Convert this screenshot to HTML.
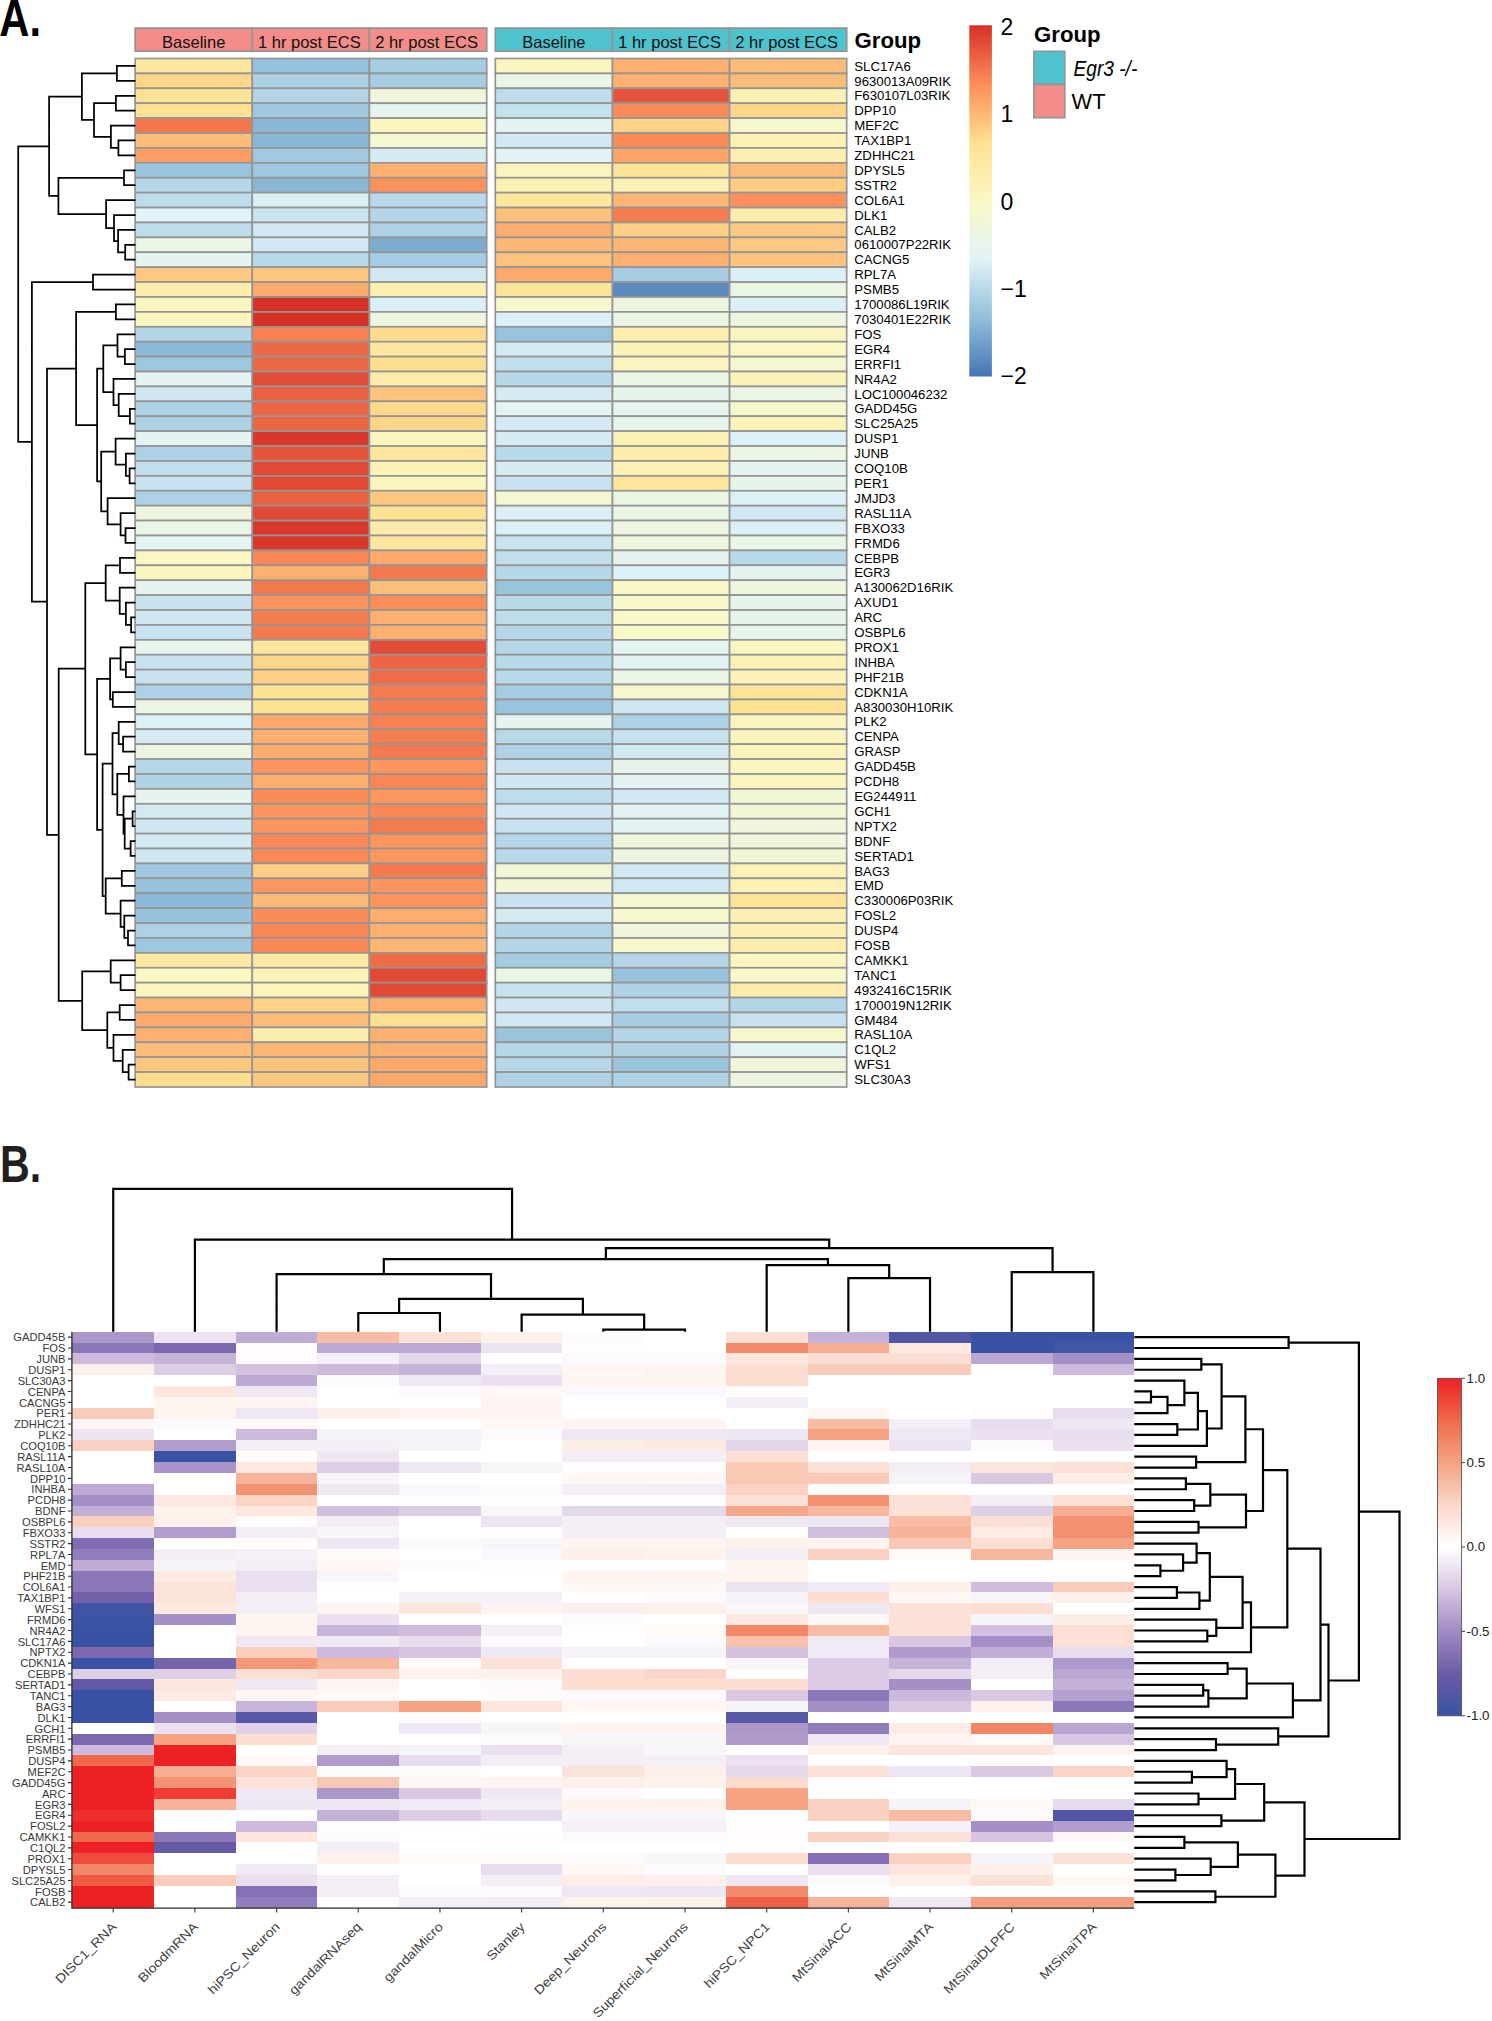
<!DOCTYPE html>
<html><head><meta charset="utf-8"><title>Heatmaps</title>
<style>
html,body{margin:0;padding:0;background:#fff;}
body{width:1492px;height:2021px;overflow:hidden;}
svg{display:block;font-family:"Liberation Sans",sans-serif;}
</style></head><body>
<svg width="1492" height="2021" viewBox="0 0 1492 2021">
<rect x="135.20" y="28.1" width="117.10" height="23.10" fill="#f48d89" stroke="#959595" stroke-width="1.8"/>
<rect x="252.30" y="28.1" width="117.10" height="23.10" fill="#f48d89" stroke="#959595" stroke-width="1.8"/>
<rect x="369.40" y="28.1" width="117.30" height="23.10" fill="#f48d89" stroke="#959595" stroke-width="1.8"/>
<text x="193.75" y="48.1" font-size="16.5" text-anchor="middle" fill="#111">Baseline</text>
<text x="309.35" y="48.1" font-size="16.5" text-anchor="middle" fill="#111">1 hr post ECS</text>
<text x="426.55" y="48.1" font-size="16.5" text-anchor="middle" fill="#111">2 hr post ECS</text>
<rect x="495.30" y="28.1" width="117.20" height="23.10" fill="#4cc3cd" stroke="#959595" stroke-width="1.8"/>
<rect x="612.50" y="28.1" width="117.10" height="23.10" fill="#4cc3cd" stroke="#959595" stroke-width="1.8"/>
<rect x="729.60" y="28.1" width="117.10" height="23.10" fill="#4cc3cd" stroke="#959595" stroke-width="1.8"/>
<text x="553.90" y="48.1" font-size="16.5" text-anchor="middle" fill="#111">Baseline</text>
<text x="669.55" y="48.1" font-size="16.5" text-anchor="middle" fill="#111">1 hr post ECS</text>
<text x="786.65" y="48.1" font-size="16.5" text-anchor="middle" fill="#111">2 hr post ECS</text>
<text x="854.5" y="47.7" font-size="22.2" font-weight="bold" fill="#000">Group</text>
<rect x="135.20" y="58.50" width="117.10" height="14.91" fill="#fde69d" stroke="#959595" stroke-width="1.7"/>
<rect x="252.30" y="58.50" width="117.10" height="14.91" fill="#95c2dc" stroke="#959595" stroke-width="1.7"/>
<rect x="369.40" y="58.50" width="117.30" height="14.91" fill="#a7cde3" stroke="#959595" stroke-width="1.7"/>
<rect x="495.30" y="58.50" width="117.20" height="14.91" fill="#fbf6c0" stroke="#959595" stroke-width="1.7"/>
<rect x="612.50" y="58.50" width="117.10" height="14.91" fill="#fdb070" stroke="#959595" stroke-width="1.7"/>
<rect x="729.60" y="58.50" width="117.10" height="14.91" fill="#fdbd79" stroke="#959595" stroke-width="1.7"/>
<rect x="135.20" y="73.41" width="117.10" height="14.91" fill="#fed689" stroke="#959595" stroke-width="1.7"/>
<rect x="252.30" y="73.41" width="117.10" height="14.91" fill="#add1e5" stroke="#959595" stroke-width="1.7"/>
<rect x="369.40" y="73.41" width="117.30" height="14.91" fill="#a7cde3" stroke="#959595" stroke-width="1.7"/>
<rect x="495.30" y="73.41" width="117.20" height="14.91" fill="#e9f5e7" stroke="#959595" stroke-width="1.7"/>
<rect x="612.50" y="73.41" width="117.10" height="14.91" fill="#fdb070" stroke="#959595" stroke-width="1.7"/>
<rect x="729.60" y="73.41" width="117.10" height="14.91" fill="#fdbd79" stroke="#959595" stroke-width="1.7"/>
<rect x="135.20" y="88.31" width="117.10" height="14.91" fill="#fee295" stroke="#959595" stroke-width="1.7"/>
<rect x="252.30" y="88.31" width="117.10" height="14.91" fill="#b3d5e7" stroke="#959595" stroke-width="1.7"/>
<rect x="369.40" y="88.31" width="117.30" height="14.91" fill="#eff6db" stroke="#959595" stroke-width="1.7"/>
<rect x="495.30" y="88.31" width="117.20" height="14.91" fill="#beddec" stroke="#959595" stroke-width="1.7"/>
<rect x="612.50" y="88.31" width="117.10" height="14.91" fill="#e5533a" stroke="#959595" stroke-width="1.7"/>
<rect x="729.60" y="88.31" width="117.10" height="14.91" fill="#fcf1b4" stroke="#959595" stroke-width="1.7"/>
<rect x="135.20" y="103.22" width="117.10" height="14.91" fill="#fee191" stroke="#959595" stroke-width="1.7"/>
<rect x="252.30" y="103.22" width="117.10" height="14.91" fill="#a1c9e1" stroke="#959595" stroke-width="1.7"/>
<rect x="369.40" y="103.22" width="117.30" height="14.91" fill="#e5f4ef" stroke="#959595" stroke-width="1.7"/>
<rect x="495.30" y="103.22" width="117.20" height="14.91" fill="#c4e1ee" stroke="#959595" stroke-width="1.7"/>
<rect x="612.50" y="103.22" width="117.10" height="14.91" fill="#fb8b58" stroke="#959595" stroke-width="1.7"/>
<rect x="729.60" y="103.22" width="117.10" height="14.91" fill="#fed689" stroke="#959595" stroke-width="1.7"/>
<rect x="135.20" y="118.12" width="117.10" height="14.91" fill="#f3764c" stroke="#959595" stroke-width="1.7"/>
<rect x="252.30" y="118.12" width="117.10" height="14.91" fill="#89b8d7" stroke="#959595" stroke-width="1.7"/>
<rect x="369.40" y="118.12" width="117.30" height="14.91" fill="#fbf6c0" stroke="#959595" stroke-width="1.7"/>
<rect x="495.30" y="118.12" width="117.20" height="14.91" fill="#e3f4f3" stroke="#959595" stroke-width="1.7"/>
<rect x="612.50" y="118.12" width="117.10" height="14.91" fill="#fed287" stroke="#959595" stroke-width="1.7"/>
<rect x="729.60" y="118.12" width="117.10" height="14.91" fill="#f7f7cc" stroke="#959595" stroke-width="1.7"/>
<rect x="135.20" y="133.03" width="117.10" height="14.91" fill="#fdbd79" stroke="#959595" stroke-width="1.7"/>
<rect x="252.30" y="133.03" width="117.10" height="14.91" fill="#89b8d7" stroke="#959595" stroke-width="1.7"/>
<rect x="369.40" y="133.03" width="117.30" height="14.91" fill="#f5f7d0" stroke="#959595" stroke-width="1.7"/>
<rect x="495.30" y="133.03" width="117.20" height="14.91" fill="#d0e9f2" stroke="#959595" stroke-width="1.7"/>
<rect x="612.50" y="133.03" width="117.10" height="14.91" fill="#fb8b58" stroke="#959595" stroke-width="1.7"/>
<rect x="729.60" y="133.03" width="117.10" height="14.91" fill="#fcf1b4" stroke="#959595" stroke-width="1.7"/>
<rect x="135.20" y="147.94" width="117.10" height="14.91" fill="#fc9e64" stroke="#959595" stroke-width="1.7"/>
<rect x="252.30" y="147.94" width="117.10" height="14.91" fill="#a1c9e1" stroke="#959595" stroke-width="1.7"/>
<rect x="369.40" y="147.94" width="117.30" height="14.91" fill="#d6ecf4" stroke="#959595" stroke-width="1.7"/>
<rect x="495.30" y="147.94" width="117.20" height="14.91" fill="#e2f3f4" stroke="#959595" stroke-width="1.7"/>
<rect x="612.50" y="147.94" width="117.10" height="14.91" fill="#fda468" stroke="#959595" stroke-width="1.7"/>
<rect x="729.60" y="147.94" width="117.10" height="14.91" fill="#fcefb0" stroke="#959595" stroke-width="1.7"/>
<rect x="135.20" y="162.84" width="117.10" height="14.91" fill="#99c4de" stroke="#959595" stroke-width="1.7"/>
<rect x="252.30" y="162.84" width="117.10" height="14.91" fill="#9ec8e0" stroke="#959595" stroke-width="1.7"/>
<rect x="369.40" y="162.84" width="117.30" height="14.91" fill="#fdb070" stroke="#959595" stroke-width="1.7"/>
<rect x="495.30" y="162.84" width="117.20" height="14.91" fill="#fbf4bc" stroke="#959595" stroke-width="1.7"/>
<rect x="612.50" y="162.84" width="117.10" height="14.91" fill="#fde499" stroke="#959595" stroke-width="1.7"/>
<rect x="729.60" y="162.84" width="117.10" height="14.91" fill="#fdbd79" stroke="#959595" stroke-width="1.7"/>
<rect x="135.20" y="177.75" width="117.10" height="14.91" fill="#b6d7e9" stroke="#959595" stroke-width="1.7"/>
<rect x="252.30" y="177.75" width="117.10" height="14.91" fill="#89b8d7" stroke="#959595" stroke-width="1.7"/>
<rect x="369.40" y="177.75" width="117.30" height="14.91" fill="#fc915c" stroke="#959595" stroke-width="1.7"/>
<rect x="495.30" y="177.75" width="117.20" height="14.91" fill="#fcf1b4" stroke="#959595" stroke-width="1.7"/>
<rect x="612.50" y="177.75" width="117.10" height="14.91" fill="#fcf1b4" stroke="#959595" stroke-width="1.7"/>
<rect x="729.60" y="177.75" width="117.10" height="14.91" fill="#fecd83" stroke="#959595" stroke-width="1.7"/>
<rect x="135.20" y="192.65" width="117.10" height="14.91" fill="#beddec" stroke="#959595" stroke-width="1.7"/>
<rect x="252.30" y="192.65" width="117.10" height="14.91" fill="#daeff6" stroke="#959595" stroke-width="1.7"/>
<rect x="369.40" y="192.65" width="117.30" height="14.91" fill="#b8d9ea" stroke="#959595" stroke-width="1.7"/>
<rect x="495.30" y="192.65" width="117.20" height="14.91" fill="#fde69d" stroke="#959595" stroke-width="1.7"/>
<rect x="612.50" y="192.65" width="117.10" height="14.91" fill="#fdb674" stroke="#959595" stroke-width="1.7"/>
<rect x="729.60" y="192.65" width="117.10" height="14.91" fill="#fc915c" stroke="#959595" stroke-width="1.7"/>
<rect x="135.20" y="207.56" width="117.10" height="14.91" fill="#e1f3f5" stroke="#959595" stroke-width="1.7"/>
<rect x="252.30" y="207.56" width="117.10" height="14.91" fill="#cae5f0" stroke="#959595" stroke-width="1.7"/>
<rect x="369.40" y="207.56" width="117.30" height="14.91" fill="#b3d5e7" stroke="#959595" stroke-width="1.7"/>
<rect x="495.30" y="207.56" width="117.20" height="14.91" fill="#fdc07b" stroke="#959595" stroke-width="1.7"/>
<rect x="612.50" y="207.56" width="117.10" height="14.91" fill="#f67d50" stroke="#959595" stroke-width="1.7"/>
<rect x="729.60" y="207.56" width="117.10" height="14.91" fill="#fcecaa" stroke="#959595" stroke-width="1.7"/>
<rect x="135.20" y="222.47" width="117.10" height="14.91" fill="#beddec" stroke="#959595" stroke-width="1.7"/>
<rect x="252.30" y="222.47" width="117.10" height="14.91" fill="#d0e9f2" stroke="#959595" stroke-width="1.7"/>
<rect x="369.40" y="222.47" width="117.30" height="14.91" fill="#add1e5" stroke="#959595" stroke-width="1.7"/>
<rect x="495.30" y="222.47" width="117.20" height="14.91" fill="#fdad6e" stroke="#959595" stroke-width="1.7"/>
<rect x="612.50" y="222.47" width="117.10" height="14.91" fill="#fecf85" stroke="#959595" stroke-width="1.7"/>
<rect x="729.60" y="222.47" width="117.10" height="14.91" fill="#fdc981" stroke="#959595" stroke-width="1.7"/>
<rect x="135.20" y="237.37" width="117.10" height="14.91" fill="#ebf5e3" stroke="#959595" stroke-width="1.7"/>
<rect x="252.30" y="237.37" width="117.10" height="14.91" fill="#d0e9f2" stroke="#959595" stroke-width="1.7"/>
<rect x="369.40" y="237.37" width="117.30" height="14.91" fill="#7eacd1" stroke="#959595" stroke-width="1.7"/>
<rect x="495.30" y="237.37" width="117.20" height="14.91" fill="#fdb674" stroke="#959595" stroke-width="1.7"/>
<rect x="612.50" y="237.37" width="117.10" height="14.91" fill="#fdb674" stroke="#959595" stroke-width="1.7"/>
<rect x="729.60" y="237.37" width="117.10" height="14.91" fill="#fdc981" stroke="#959595" stroke-width="1.7"/>
<rect x="135.20" y="252.28" width="117.10" height="14.91" fill="#e4f4f1" stroke="#959595" stroke-width="1.7"/>
<rect x="252.30" y="252.28" width="117.10" height="14.91" fill="#b8d9ea" stroke="#959595" stroke-width="1.7"/>
<rect x="369.40" y="252.28" width="117.30" height="14.91" fill="#a4cce2" stroke="#959595" stroke-width="1.7"/>
<rect x="495.30" y="252.28" width="117.20" height="14.91" fill="#fdc37d" stroke="#959595" stroke-width="1.7"/>
<rect x="612.50" y="252.28" width="117.10" height="14.91" fill="#fdb070" stroke="#959595" stroke-width="1.7"/>
<rect x="729.60" y="252.28" width="117.10" height="14.91" fill="#fdc37d" stroke="#959595" stroke-width="1.7"/>
<rect x="135.20" y="267.18" width="117.10" height="14.91" fill="#fdc981" stroke="#959595" stroke-width="1.7"/>
<rect x="252.30" y="267.18" width="117.10" height="14.91" fill="#fdc57e" stroke="#959595" stroke-width="1.7"/>
<rect x="369.40" y="267.18" width="117.30" height="14.91" fill="#d0e9f2" stroke="#959595" stroke-width="1.7"/>
<rect x="495.30" y="267.18" width="117.20" height="14.91" fill="#fdaa6c" stroke="#959595" stroke-width="1.7"/>
<rect x="612.50" y="267.18" width="117.10" height="14.91" fill="#a7cde3" stroke="#959595" stroke-width="1.7"/>
<rect x="729.60" y="267.18" width="117.10" height="14.91" fill="#daeff6" stroke="#959595" stroke-width="1.7"/>
<rect x="135.20" y="282.09" width="117.10" height="14.91" fill="#fcedad" stroke="#959595" stroke-width="1.7"/>
<rect x="252.30" y="282.09" width="117.10" height="14.91" fill="#fdaa6c" stroke="#959595" stroke-width="1.7"/>
<rect x="369.40" y="282.09" width="117.30" height="14.91" fill="#fceeae" stroke="#959595" stroke-width="1.7"/>
<rect x="495.30" y="282.09" width="117.20" height="14.91" fill="#fde499" stroke="#959595" stroke-width="1.7"/>
<rect x="612.50" y="282.09" width="117.10" height="14.91" fill="#5c8bc0" stroke="#959595" stroke-width="1.7"/>
<rect x="729.60" y="282.09" width="117.10" height="14.91" fill="#ebf5e3" stroke="#959595" stroke-width="1.7"/>
<rect x="135.20" y="297.00" width="117.10" height="14.91" fill="#fbf6c0" stroke="#959595" stroke-width="1.7"/>
<rect x="252.30" y="297.00" width="117.10" height="14.91" fill="#d73027" stroke="#959595" stroke-width="1.7"/>
<rect x="369.40" y="297.00" width="117.30" height="14.91" fill="#daeff6" stroke="#959595" stroke-width="1.7"/>
<rect x="495.30" y="297.00" width="117.20" height="14.91" fill="#f7f7cc" stroke="#959595" stroke-width="1.7"/>
<rect x="612.50" y="297.00" width="117.10" height="14.91" fill="#edf5df" stroke="#959595" stroke-width="1.7"/>
<rect x="729.60" y="297.00" width="117.10" height="14.91" fill="#daeff6" stroke="#959595" stroke-width="1.7"/>
<rect x="135.20" y="311.90" width="117.10" height="14.91" fill="#fbf6c0" stroke="#959595" stroke-width="1.7"/>
<rect x="252.30" y="311.90" width="117.10" height="14.91" fill="#d73027" stroke="#959595" stroke-width="1.7"/>
<rect x="369.40" y="311.90" width="117.30" height="14.91" fill="#edf5df" stroke="#959595" stroke-width="1.7"/>
<rect x="495.30" y="311.90" width="117.20" height="14.91" fill="#dcf0f7" stroke="#959595" stroke-width="1.7"/>
<rect x="612.50" y="311.90" width="117.10" height="14.91" fill="#ebf5e3" stroke="#959595" stroke-width="1.7"/>
<rect x="729.60" y="311.90" width="117.10" height="14.91" fill="#edf5df" stroke="#959595" stroke-width="1.7"/>
<rect x="135.20" y="326.81" width="117.10" height="14.91" fill="#b3d5e7" stroke="#959595" stroke-width="1.7"/>
<rect x="252.30" y="326.81" width="117.10" height="14.91" fill="#f78152" stroke="#959595" stroke-width="1.7"/>
<rect x="369.40" y="326.81" width="117.30" height="14.91" fill="#fedc8d" stroke="#959595" stroke-width="1.7"/>
<rect x="495.30" y="326.81" width="117.20" height="14.91" fill="#99c4de" stroke="#959595" stroke-width="1.7"/>
<rect x="612.50" y="326.81" width="117.10" height="14.91" fill="#fcefb0" stroke="#959595" stroke-width="1.7"/>
<rect x="729.60" y="326.81" width="117.10" height="14.91" fill="#fbf6c0" stroke="#959595" stroke-width="1.7"/>
<rect x="135.20" y="341.71" width="117.10" height="14.91" fill="#8cbad8" stroke="#959595" stroke-width="1.7"/>
<rect x="252.30" y="341.71" width="117.10" height="14.91" fill="#ed6845" stroke="#959595" stroke-width="1.7"/>
<rect x="369.40" y="341.71" width="117.30" height="14.91" fill="#fde69d" stroke="#959595" stroke-width="1.7"/>
<rect x="495.30" y="341.71" width="117.20" height="14.91" fill="#d3eaf3" stroke="#959595" stroke-width="1.7"/>
<rect x="612.50" y="341.71" width="117.10" height="14.91" fill="#fcf3b8" stroke="#959595" stroke-width="1.7"/>
<rect x="729.60" y="341.71" width="117.10" height="14.91" fill="#fbf8c4" stroke="#959595" stroke-width="1.7"/>
<rect x="135.20" y="356.62" width="117.10" height="14.91" fill="#9ec8e0" stroke="#959595" stroke-width="1.7"/>
<rect x="252.30" y="356.62" width="117.10" height="14.91" fill="#ed6845" stroke="#959595" stroke-width="1.7"/>
<rect x="369.40" y="356.62" width="117.30" height="14.91" fill="#fede8f" stroke="#959595" stroke-width="1.7"/>
<rect x="495.30" y="356.62" width="117.20" height="14.91" fill="#c2dfed" stroke="#959595" stroke-width="1.7"/>
<rect x="612.50" y="356.62" width="117.10" height="14.91" fill="#fbf4bc" stroke="#959595" stroke-width="1.7"/>
<rect x="729.60" y="356.62" width="117.10" height="14.91" fill="#f5f7d0" stroke="#959595" stroke-width="1.7"/>
<rect x="135.20" y="371.53" width="117.10" height="14.91" fill="#e3f4f3" stroke="#959595" stroke-width="1.7"/>
<rect x="252.30" y="371.53" width="117.10" height="14.91" fill="#e24c36" stroke="#959595" stroke-width="1.7"/>
<rect x="369.40" y="371.53" width="117.30" height="14.91" fill="#fdeba9" stroke="#959595" stroke-width="1.7"/>
<rect x="495.30" y="371.53" width="117.20" height="14.91" fill="#b6d7e9" stroke="#959595" stroke-width="1.7"/>
<rect x="612.50" y="371.53" width="117.10" height="14.91" fill="#eaf5e5" stroke="#959595" stroke-width="1.7"/>
<rect x="729.60" y="371.53" width="117.10" height="14.91" fill="#fcf3b8" stroke="#959595" stroke-width="1.7"/>
<rect x="135.20" y="386.43" width="117.10" height="14.91" fill="#cee7f1" stroke="#959595" stroke-width="1.7"/>
<rect x="252.30" y="386.43" width="117.10" height="14.91" fill="#ea6141" stroke="#959595" stroke-width="1.7"/>
<rect x="369.40" y="386.43" width="117.30" height="14.91" fill="#fdc37d" stroke="#959595" stroke-width="1.7"/>
<rect x="495.30" y="386.43" width="117.20" height="14.91" fill="#d6ecf4" stroke="#959595" stroke-width="1.7"/>
<rect x="612.50" y="386.43" width="117.10" height="14.91" fill="#e7f4eb" stroke="#959595" stroke-width="1.7"/>
<rect x="729.60" y="386.43" width="117.10" height="14.91" fill="#ebf5e3" stroke="#959595" stroke-width="1.7"/>
<rect x="135.20" y="401.34" width="117.10" height="14.91" fill="#add1e5" stroke="#959595" stroke-width="1.7"/>
<rect x="252.30" y="401.34" width="117.10" height="14.91" fill="#ec6443" stroke="#959595" stroke-width="1.7"/>
<rect x="369.40" y="401.34" width="117.30" height="14.91" fill="#fed88b" stroke="#959595" stroke-width="1.7"/>
<rect x="495.30" y="401.34" width="117.20" height="14.91" fill="#e3f4f3" stroke="#959595" stroke-width="1.7"/>
<rect x="612.50" y="401.34" width="117.10" height="14.91" fill="#e6f4ed" stroke="#959595" stroke-width="1.7"/>
<rect x="729.60" y="401.34" width="117.10" height="14.91" fill="#f7f7cc" stroke="#959595" stroke-width="1.7"/>
<rect x="135.20" y="416.24" width="117.10" height="14.91" fill="#add1e5" stroke="#959595" stroke-width="1.7"/>
<rect x="252.30" y="416.24" width="117.10" height="14.91" fill="#ec6543" stroke="#959595" stroke-width="1.7"/>
<rect x="369.40" y="416.24" width="117.30" height="14.91" fill="#fed689" stroke="#959595" stroke-width="1.7"/>
<rect x="495.30" y="416.24" width="117.20" height="14.91" fill="#d3eaf3" stroke="#959595" stroke-width="1.7"/>
<rect x="612.50" y="416.24" width="117.10" height="14.91" fill="#e7f4eb" stroke="#959595" stroke-width="1.7"/>
<rect x="729.60" y="416.24" width="117.10" height="14.91" fill="#fcf3b8" stroke="#959595" stroke-width="1.7"/>
<rect x="135.20" y="431.15" width="117.10" height="14.91" fill="#e4f4f0" stroke="#959595" stroke-width="1.7"/>
<rect x="252.30" y="431.15" width="117.10" height="14.91" fill="#da372b" stroke="#959595" stroke-width="1.7"/>
<rect x="369.40" y="431.15" width="117.30" height="14.91" fill="#fbf6c0" stroke="#959595" stroke-width="1.7"/>
<rect x="495.30" y="431.15" width="117.20" height="14.91" fill="#d6ecf4" stroke="#959595" stroke-width="1.7"/>
<rect x="612.50" y="431.15" width="117.10" height="14.91" fill="#fcf1b4" stroke="#959595" stroke-width="1.7"/>
<rect x="729.60" y="431.15" width="117.10" height="14.91" fill="#dcf0f7" stroke="#959595" stroke-width="1.7"/>
<rect x="135.20" y="446.06" width="117.10" height="14.91" fill="#add1e5" stroke="#959595" stroke-width="1.7"/>
<rect x="252.30" y="446.06" width="117.10" height="14.91" fill="#e5533a" stroke="#959595" stroke-width="1.7"/>
<rect x="369.40" y="446.06" width="117.30" height="14.91" fill="#fde59b" stroke="#959595" stroke-width="1.7"/>
<rect x="495.30" y="446.06" width="117.20" height="14.91" fill="#b8d9ea" stroke="#959595" stroke-width="1.7"/>
<rect x="612.50" y="446.06" width="117.10" height="14.91" fill="#fdeba9" stroke="#959595" stroke-width="1.7"/>
<rect x="729.60" y="446.06" width="117.10" height="14.91" fill="#ebf5e3" stroke="#959595" stroke-width="1.7"/>
<rect x="135.20" y="460.96" width="117.10" height="14.91" fill="#c1deed" stroke="#959595" stroke-width="1.7"/>
<rect x="252.30" y="460.96" width="117.10" height="14.91" fill="#e14934" stroke="#959595" stroke-width="1.7"/>
<rect x="369.40" y="460.96" width="117.30" height="14.91" fill="#fcf2b6" stroke="#959595" stroke-width="1.7"/>
<rect x="495.30" y="460.96" width="117.20" height="14.91" fill="#d6ecf4" stroke="#959595" stroke-width="1.7"/>
<rect x="612.50" y="460.96" width="117.10" height="14.91" fill="#fcf1b4" stroke="#959595" stroke-width="1.7"/>
<rect x="729.60" y="460.96" width="117.10" height="14.91" fill="#e4f4f1" stroke="#959595" stroke-width="1.7"/>
<rect x="135.20" y="475.87" width="117.10" height="14.91" fill="#c8e3ef" stroke="#959595" stroke-width="1.7"/>
<rect x="252.30" y="475.87" width="117.10" height="14.91" fill="#e14934" stroke="#959595" stroke-width="1.7"/>
<rect x="369.40" y="475.87" width="117.30" height="14.91" fill="#fbf4bc" stroke="#959595" stroke-width="1.7"/>
<rect x="495.30" y="475.87" width="117.20" height="14.91" fill="#c8e3ef" stroke="#959595" stroke-width="1.7"/>
<rect x="612.50" y="475.87" width="117.10" height="14.91" fill="#fde59b" stroke="#959595" stroke-width="1.7"/>
<rect x="729.60" y="475.87" width="117.10" height="14.91" fill="#e7f4eb" stroke="#959595" stroke-width="1.7"/>
<rect x="135.20" y="490.77" width="117.10" height="14.91" fill="#add1e5" stroke="#959595" stroke-width="1.7"/>
<rect x="252.30" y="490.77" width="117.10" height="14.91" fill="#ea6141" stroke="#959595" stroke-width="1.7"/>
<rect x="369.40" y="490.77" width="117.30" height="14.91" fill="#fdc77f" stroke="#959595" stroke-width="1.7"/>
<rect x="495.30" y="490.77" width="117.20" height="14.91" fill="#f5f7d0" stroke="#959595" stroke-width="1.7"/>
<rect x="612.50" y="490.77" width="117.10" height="14.91" fill="#ebf5e3" stroke="#959595" stroke-width="1.7"/>
<rect x="729.60" y="490.77" width="117.10" height="14.91" fill="#dcf0f7" stroke="#959595" stroke-width="1.7"/>
<rect x="135.20" y="505.68" width="117.10" height="14.91" fill="#edf5df" stroke="#959595" stroke-width="1.7"/>
<rect x="252.30" y="505.68" width="117.10" height="14.91" fill="#e14934" stroke="#959595" stroke-width="1.7"/>
<rect x="369.40" y="505.68" width="117.30" height="14.91" fill="#fee294" stroke="#959595" stroke-width="1.7"/>
<rect x="495.30" y="505.68" width="117.20" height="14.91" fill="#dcf0f7" stroke="#959595" stroke-width="1.7"/>
<rect x="612.50" y="505.68" width="117.10" height="14.91" fill="#ebf5e3" stroke="#959595" stroke-width="1.7"/>
<rect x="729.60" y="505.68" width="117.10" height="14.91" fill="#d0e9f2" stroke="#959595" stroke-width="1.7"/>
<rect x="135.20" y="520.59" width="117.10" height="14.91" fill="#e9f5e7" stroke="#959595" stroke-width="1.7"/>
<rect x="252.30" y="520.59" width="117.10" height="14.91" fill="#da372b" stroke="#959595" stroke-width="1.7"/>
<rect x="369.40" y="520.59" width="117.30" height="14.91" fill="#fdeba9" stroke="#959595" stroke-width="1.7"/>
<rect x="495.30" y="520.59" width="117.20" height="14.91" fill="#dcf0f7" stroke="#959595" stroke-width="1.7"/>
<rect x="612.50" y="520.59" width="117.10" height="14.91" fill="#ecf5e2" stroke="#959595" stroke-width="1.7"/>
<rect x="729.60" y="520.59" width="117.10" height="14.91" fill="#daeff6" stroke="#959595" stroke-width="1.7"/>
<rect x="135.20" y="535.49" width="117.10" height="14.91" fill="#e3f4f3" stroke="#959595" stroke-width="1.7"/>
<rect x="252.30" y="535.49" width="117.10" height="14.91" fill="#da372b" stroke="#959595" stroke-width="1.7"/>
<rect x="369.40" y="535.49" width="117.30" height="14.91" fill="#fde69d" stroke="#959595" stroke-width="1.7"/>
<rect x="495.30" y="535.49" width="117.20" height="14.91" fill="#c8e3ef" stroke="#959595" stroke-width="1.7"/>
<rect x="612.50" y="535.49" width="117.10" height="14.91" fill="#eef6dd" stroke="#959595" stroke-width="1.7"/>
<rect x="729.60" y="535.49" width="117.10" height="14.91" fill="#e9f5e7" stroke="#959595" stroke-width="1.7"/>
<rect x="135.20" y="550.40" width="117.10" height="14.91" fill="#fbf7c2" stroke="#959595" stroke-width="1.7"/>
<rect x="252.30" y="550.40" width="117.10" height="14.91" fill="#fa8856" stroke="#959595" stroke-width="1.7"/>
<rect x="369.40" y="550.40" width="117.30" height="14.91" fill="#fdaa6c" stroke="#959595" stroke-width="1.7"/>
<rect x="495.30" y="550.40" width="117.20" height="14.91" fill="#c1deed" stroke="#959595" stroke-width="1.7"/>
<rect x="612.50" y="550.40" width="117.10" height="14.91" fill="#e6f4ed" stroke="#959595" stroke-width="1.7"/>
<rect x="729.60" y="550.40" width="117.10" height="14.91" fill="#b8d9ea" stroke="#959595" stroke-width="1.7"/>
<rect x="135.20" y="565.30" width="117.10" height="14.91" fill="#fbf6c0" stroke="#959595" stroke-width="1.7"/>
<rect x="252.30" y="565.30" width="117.10" height="14.91" fill="#fdb070" stroke="#959595" stroke-width="1.7"/>
<rect x="369.40" y="565.30" width="117.30" height="14.91" fill="#f4794e" stroke="#959595" stroke-width="1.7"/>
<rect x="495.30" y="565.30" width="117.20" height="14.91" fill="#b5d7e8" stroke="#959595" stroke-width="1.7"/>
<rect x="612.50" y="565.30" width="117.10" height="14.91" fill="#dcf0f7" stroke="#959595" stroke-width="1.7"/>
<rect x="729.60" y="565.30" width="117.10" height="14.91" fill="#e4f4f1" stroke="#959595" stroke-width="1.7"/>
<rect x="135.20" y="580.21" width="117.10" height="14.91" fill="#e5f4ef" stroke="#959595" stroke-width="1.7"/>
<rect x="252.30" y="580.21" width="117.10" height="14.91" fill="#f4794e" stroke="#959595" stroke-width="1.7"/>
<rect x="369.40" y="580.21" width="117.30" height="14.91" fill="#fdc07b" stroke="#959595" stroke-width="1.7"/>
<rect x="495.30" y="580.21" width="117.20" height="14.91" fill="#99c4de" stroke="#959595" stroke-width="1.7"/>
<rect x="612.50" y="580.21" width="117.10" height="14.91" fill="#f9f8c8" stroke="#959595" stroke-width="1.7"/>
<rect x="729.60" y="580.21" width="117.10" height="14.91" fill="#eef6dd" stroke="#959595" stroke-width="1.7"/>
<rect x="135.20" y="595.12" width="117.10" height="14.91" fill="#c8e3ef" stroke="#959595" stroke-width="1.7"/>
<rect x="252.30" y="595.12" width="117.10" height="14.91" fill="#fc945d" stroke="#959595" stroke-width="1.7"/>
<rect x="369.40" y="595.12" width="117.30" height="14.91" fill="#fc8d59" stroke="#959595" stroke-width="1.7"/>
<rect x="495.30" y="595.12" width="117.20" height="14.91" fill="#b8d9ea" stroke="#959595" stroke-width="1.7"/>
<rect x="612.50" y="595.12" width="117.10" height="14.91" fill="#f9f8c8" stroke="#959595" stroke-width="1.7"/>
<rect x="729.60" y="595.12" width="117.10" height="14.91" fill="#e7f4eb" stroke="#959595" stroke-width="1.7"/>
<rect x="135.20" y="610.02" width="117.10" height="14.91" fill="#cee7f1" stroke="#959595" stroke-width="1.7"/>
<rect x="252.30" y="610.02" width="117.10" height="14.91" fill="#f67d50" stroke="#959595" stroke-width="1.7"/>
<rect x="369.40" y="610.02" width="117.30" height="14.91" fill="#fdb070" stroke="#959595" stroke-width="1.7"/>
<rect x="495.30" y="610.02" width="117.20" height="14.91" fill="#beddec" stroke="#959595" stroke-width="1.7"/>
<rect x="612.50" y="610.02" width="117.10" height="14.91" fill="#f9f8c8" stroke="#959595" stroke-width="1.7"/>
<rect x="729.60" y="610.02" width="117.10" height="14.91" fill="#e7f4eb" stroke="#959595" stroke-width="1.7"/>
<rect x="135.20" y="624.93" width="117.10" height="14.91" fill="#c8e3ef" stroke="#959595" stroke-width="1.7"/>
<rect x="252.30" y="624.93" width="117.10" height="14.91" fill="#f47a4f" stroke="#959595" stroke-width="1.7"/>
<rect x="369.40" y="624.93" width="117.30" height="14.91" fill="#fdb070" stroke="#959595" stroke-width="1.7"/>
<rect x="495.30" y="624.93" width="117.20" height="14.91" fill="#b6d7e9" stroke="#959595" stroke-width="1.7"/>
<rect x="612.50" y="624.93" width="117.10" height="14.91" fill="#f9f8c8" stroke="#959595" stroke-width="1.7"/>
<rect x="729.60" y="624.93" width="117.10" height="14.91" fill="#e7f4eb" stroke="#959595" stroke-width="1.7"/>
<rect x="135.20" y="639.83" width="117.10" height="14.91" fill="#e7f4eb" stroke="#959595" stroke-width="1.7"/>
<rect x="252.30" y="639.83" width="117.10" height="14.91" fill="#fde59b" stroke="#959595" stroke-width="1.7"/>
<rect x="369.40" y="639.83" width="117.30" height="14.91" fill="#e24c36" stroke="#959595" stroke-width="1.7"/>
<rect x="495.30" y="639.83" width="117.20" height="14.91" fill="#b5d7e8" stroke="#959595" stroke-width="1.7"/>
<rect x="612.50" y="639.83" width="117.10" height="14.91" fill="#e4f4f1" stroke="#959595" stroke-width="1.7"/>
<rect x="729.60" y="639.83" width="117.10" height="14.91" fill="#fbf6c0" stroke="#959595" stroke-width="1.7"/>
<rect x="135.20" y="654.74" width="117.10" height="14.91" fill="#c8e3ef" stroke="#959595" stroke-width="1.7"/>
<rect x="252.30" y="654.74" width="117.10" height="14.91" fill="#fed689" stroke="#959595" stroke-width="1.7"/>
<rect x="369.40" y="654.74" width="117.30" height="14.91" fill="#ec6443" stroke="#959595" stroke-width="1.7"/>
<rect x="495.30" y="654.74" width="117.20" height="14.91" fill="#b8d9ea" stroke="#959595" stroke-width="1.7"/>
<rect x="612.50" y="654.74" width="117.10" height="14.91" fill="#e2f3f4" stroke="#959595" stroke-width="1.7"/>
<rect x="729.60" y="654.74" width="117.10" height="14.91" fill="#fcf1b4" stroke="#959595" stroke-width="1.7"/>
<rect x="135.20" y="669.65" width="117.10" height="14.91" fill="#c8e3ef" stroke="#959595" stroke-width="1.7"/>
<rect x="252.30" y="669.65" width="117.10" height="14.91" fill="#fecf85" stroke="#959595" stroke-width="1.7"/>
<rect x="369.40" y="669.65" width="117.30" height="14.91" fill="#ef6c47" stroke="#959595" stroke-width="1.7"/>
<rect x="495.30" y="669.65" width="117.20" height="14.91" fill="#b8d9ea" stroke="#959595" stroke-width="1.7"/>
<rect x="612.50" y="669.65" width="117.10" height="14.91" fill="#eaf5e5" stroke="#959595" stroke-width="1.7"/>
<rect x="729.60" y="669.65" width="117.10" height="14.91" fill="#fcf3b8" stroke="#959595" stroke-width="1.7"/>
<rect x="135.20" y="684.55" width="117.10" height="14.91" fill="#add1e5" stroke="#959595" stroke-width="1.7"/>
<rect x="252.30" y="684.55" width="117.10" height="14.91" fill="#fee294" stroke="#959595" stroke-width="1.7"/>
<rect x="369.40" y="684.55" width="117.30" height="14.91" fill="#f47a4f" stroke="#959595" stroke-width="1.7"/>
<rect x="495.30" y="684.55" width="117.20" height="14.91" fill="#a4cce2" stroke="#959595" stroke-width="1.7"/>
<rect x="612.50" y="684.55" width="117.10" height="14.91" fill="#f6f7cd" stroke="#959595" stroke-width="1.7"/>
<rect x="729.60" y="684.55" width="117.10" height="14.91" fill="#fde499" stroke="#959595" stroke-width="1.7"/>
<rect x="135.20" y="699.46" width="117.10" height="14.91" fill="#ebf5e3" stroke="#959595" stroke-width="1.7"/>
<rect x="252.30" y="699.46" width="117.10" height="14.91" fill="#fee294" stroke="#959595" stroke-width="1.7"/>
<rect x="369.40" y="699.46" width="117.30" height="14.91" fill="#f67d50" stroke="#959595" stroke-width="1.7"/>
<rect x="495.30" y="699.46" width="117.20" height="14.91" fill="#99c4de" stroke="#959595" stroke-width="1.7"/>
<rect x="612.50" y="699.46" width="117.10" height="14.91" fill="#cee7f1" stroke="#959595" stroke-width="1.7"/>
<rect x="729.60" y="699.46" width="117.10" height="14.91" fill="#fee191" stroke="#959595" stroke-width="1.7"/>
<rect x="135.20" y="714.36" width="117.10" height="14.91" fill="#dcf0f7" stroke="#959595" stroke-width="1.7"/>
<rect x="252.30" y="714.36" width="117.10" height="14.91" fill="#fda86b" stroke="#959595" stroke-width="1.7"/>
<rect x="369.40" y="714.36" width="117.30" height="14.91" fill="#f78152" stroke="#959595" stroke-width="1.7"/>
<rect x="495.30" y="714.36" width="117.20" height="14.91" fill="#e4f4f1" stroke="#959595" stroke-width="1.7"/>
<rect x="612.50" y="714.36" width="117.10" height="14.91" fill="#add1e5" stroke="#959595" stroke-width="1.7"/>
<rect x="729.60" y="714.36" width="117.10" height="14.91" fill="#fbf6c0" stroke="#959595" stroke-width="1.7"/>
<rect x="135.20" y="729.27" width="117.10" height="14.91" fill="#d6ecf4" stroke="#959595" stroke-width="1.7"/>
<rect x="252.30" y="729.27" width="117.10" height="14.91" fill="#fdb070" stroke="#959595" stroke-width="1.7"/>
<rect x="369.40" y="729.27" width="117.30" height="14.91" fill="#f67d50" stroke="#959595" stroke-width="1.7"/>
<rect x="495.30" y="729.27" width="117.20" height="14.91" fill="#b8d9ea" stroke="#959595" stroke-width="1.7"/>
<rect x="612.50" y="729.27" width="117.10" height="14.91" fill="#c8e3ef" stroke="#959595" stroke-width="1.7"/>
<rect x="729.60" y="729.27" width="117.10" height="14.91" fill="#fbf4bc" stroke="#959595" stroke-width="1.7"/>
<rect x="135.20" y="744.18" width="117.10" height="14.91" fill="#ecf5e2" stroke="#959595" stroke-width="1.7"/>
<rect x="252.30" y="744.18" width="117.10" height="14.91" fill="#fdae6f" stroke="#959595" stroke-width="1.7"/>
<rect x="369.40" y="744.18" width="117.30" height="14.91" fill="#f47a4f" stroke="#959595" stroke-width="1.7"/>
<rect x="495.30" y="744.18" width="117.20" height="14.91" fill="#add1e5" stroke="#959595" stroke-width="1.7"/>
<rect x="612.50" y="744.18" width="117.10" height="14.91" fill="#d0e9f2" stroke="#959595" stroke-width="1.7"/>
<rect x="729.60" y="744.18" width="117.10" height="14.91" fill="#fcf4bb" stroke="#959595" stroke-width="1.7"/>
<rect x="135.20" y="759.08" width="117.10" height="14.91" fill="#b6d7e9" stroke="#959595" stroke-width="1.7"/>
<rect x="252.30" y="759.08" width="117.10" height="14.91" fill="#fc955e" stroke="#959595" stroke-width="1.7"/>
<rect x="369.40" y="759.08" width="117.30" height="14.91" fill="#fc955e" stroke="#959595" stroke-width="1.7"/>
<rect x="495.30" y="759.08" width="117.20" height="14.91" fill="#c8e3ef" stroke="#959595" stroke-width="1.7"/>
<rect x="612.50" y="759.08" width="117.10" height="14.91" fill="#e7f4eb" stroke="#959595" stroke-width="1.7"/>
<rect x="729.60" y="759.08" width="117.10" height="14.91" fill="#fbf6c0" stroke="#959595" stroke-width="1.7"/>
<rect x="135.20" y="773.99" width="117.10" height="14.91" fill="#b0d4e6" stroke="#959595" stroke-width="1.7"/>
<rect x="252.30" y="773.99" width="117.10" height="14.91" fill="#fdad6e" stroke="#959595" stroke-width="1.7"/>
<rect x="369.40" y="773.99" width="117.30" height="14.91" fill="#f98656" stroke="#959595" stroke-width="1.7"/>
<rect x="495.30" y="773.99" width="117.20" height="14.91" fill="#cee7f1" stroke="#959595" stroke-width="1.7"/>
<rect x="612.50" y="773.99" width="117.10" height="14.91" fill="#e3f4f3" stroke="#959595" stroke-width="1.7"/>
<rect x="729.60" y="773.99" width="117.10" height="14.91" fill="#fbf5be" stroke="#959595" stroke-width="1.7"/>
<rect x="135.20" y="788.89" width="117.10" height="14.91" fill="#e5f4ef" stroke="#959595" stroke-width="1.7"/>
<rect x="252.30" y="788.89" width="117.10" height="14.91" fill="#fb8b58" stroke="#959595" stroke-width="1.7"/>
<rect x="369.40" y="788.89" width="117.30" height="14.91" fill="#fc9760" stroke="#959595" stroke-width="1.7"/>
<rect x="495.30" y="788.89" width="117.20" height="14.91" fill="#beddec" stroke="#959595" stroke-width="1.7"/>
<rect x="612.50" y="788.89" width="117.10" height="14.91" fill="#d0e9f2" stroke="#959595" stroke-width="1.7"/>
<rect x="729.60" y="788.89" width="117.10" height="14.91" fill="#f3f6d4" stroke="#959595" stroke-width="1.7"/>
<rect x="135.20" y="803.80" width="117.10" height="14.91" fill="#d3eaf3" stroke="#959595" stroke-width="1.7"/>
<rect x="252.30" y="803.80" width="117.10" height="14.91" fill="#fc945d" stroke="#959595" stroke-width="1.7"/>
<rect x="369.40" y="803.80" width="117.30" height="14.91" fill="#fa8856" stroke="#959595" stroke-width="1.7"/>
<rect x="495.30" y="803.80" width="117.20" height="14.91" fill="#cee7f1" stroke="#959595" stroke-width="1.7"/>
<rect x="612.50" y="803.80" width="117.10" height="14.91" fill="#e3f4f3" stroke="#959595" stroke-width="1.7"/>
<rect x="729.60" y="803.80" width="117.10" height="14.91" fill="#f3f6d4" stroke="#959595" stroke-width="1.7"/>
<rect x="135.20" y="818.71" width="117.10" height="14.91" fill="#cee7f1" stroke="#959595" stroke-width="1.7"/>
<rect x="252.30" y="818.71" width="117.10" height="14.91" fill="#fc955e" stroke="#959595" stroke-width="1.7"/>
<rect x="369.40" y="818.71" width="117.30" height="14.91" fill="#f47a4f" stroke="#959595" stroke-width="1.7"/>
<rect x="495.30" y="818.71" width="117.20" height="14.91" fill="#c8e3ef" stroke="#959595" stroke-width="1.7"/>
<rect x="612.50" y="818.71" width="117.10" height="14.91" fill="#e3f4f3" stroke="#959595" stroke-width="1.7"/>
<rect x="729.60" y="818.71" width="117.10" height="14.91" fill="#eff6db" stroke="#959595" stroke-width="1.7"/>
<rect x="135.20" y="833.61" width="117.10" height="14.91" fill="#d4ebf4" stroke="#959595" stroke-width="1.7"/>
<rect x="252.30" y="833.61" width="117.10" height="14.91" fill="#fa8856" stroke="#959595" stroke-width="1.7"/>
<rect x="369.40" y="833.61" width="117.30" height="14.91" fill="#fc955e" stroke="#959595" stroke-width="1.7"/>
<rect x="495.30" y="833.61" width="117.20" height="14.91" fill="#b6d7e9" stroke="#959595" stroke-width="1.7"/>
<rect x="612.50" y="833.61" width="117.10" height="14.91" fill="#eff6db" stroke="#959595" stroke-width="1.7"/>
<rect x="729.60" y="833.61" width="117.10" height="14.91" fill="#eff6db" stroke="#959595" stroke-width="1.7"/>
<rect x="135.20" y="848.52" width="117.10" height="14.91" fill="#cee7f1" stroke="#959595" stroke-width="1.7"/>
<rect x="252.30" y="848.52" width="117.10" height="14.91" fill="#fa8856" stroke="#959595" stroke-width="1.7"/>
<rect x="369.40" y="848.52" width="117.30" height="14.91" fill="#fc955e" stroke="#959595" stroke-width="1.7"/>
<rect x="495.30" y="848.52" width="117.20" height="14.91" fill="#b8d9ea" stroke="#959595" stroke-width="1.7"/>
<rect x="612.50" y="848.52" width="117.10" height="14.91" fill="#edf5df" stroke="#959595" stroke-width="1.7"/>
<rect x="729.60" y="848.52" width="117.10" height="14.91" fill="#f3f6d4" stroke="#959595" stroke-width="1.7"/>
<rect x="135.20" y="863.42" width="117.10" height="14.91" fill="#9ec8e0" stroke="#959595" stroke-width="1.7"/>
<rect x="252.30" y="863.42" width="117.10" height="14.91" fill="#fecf85" stroke="#959595" stroke-width="1.7"/>
<rect x="369.40" y="863.42" width="117.30" height="14.91" fill="#f4794e" stroke="#959595" stroke-width="1.7"/>
<rect x="495.30" y="863.42" width="117.20" height="14.91" fill="#f3f6d4" stroke="#959595" stroke-width="1.7"/>
<rect x="612.50" y="863.42" width="117.10" height="14.91" fill="#d0e9f2" stroke="#959595" stroke-width="1.7"/>
<rect x="729.60" y="863.42" width="117.10" height="14.91" fill="#fcf2b6" stroke="#959595" stroke-width="1.7"/>
<rect x="135.20" y="878.33" width="117.10" height="14.91" fill="#97c3dd" stroke="#959595" stroke-width="1.7"/>
<rect x="252.30" y="878.33" width="117.10" height="14.91" fill="#fc9760" stroke="#959595" stroke-width="1.7"/>
<rect x="369.40" y="878.33" width="117.30" height="14.91" fill="#fc955e" stroke="#959595" stroke-width="1.7"/>
<rect x="495.30" y="878.33" width="117.20" height="14.91" fill="#f3f6d4" stroke="#959595" stroke-width="1.7"/>
<rect x="612.50" y="878.33" width="117.10" height="14.91" fill="#d0e9f2" stroke="#959595" stroke-width="1.7"/>
<rect x="729.60" y="878.33" width="117.10" height="14.91" fill="#fcf2b6" stroke="#959595" stroke-width="1.7"/>
<rect x="135.20" y="893.24" width="117.10" height="14.91" fill="#8cbad8" stroke="#959595" stroke-width="1.7"/>
<rect x="252.30" y="893.24" width="117.10" height="14.91" fill="#fdba77" stroke="#959595" stroke-width="1.7"/>
<rect x="369.40" y="893.24" width="117.30" height="14.91" fill="#fc945d" stroke="#959595" stroke-width="1.7"/>
<rect x="495.30" y="893.24" width="117.20" height="14.91" fill="#c8e3ef" stroke="#959595" stroke-width="1.7"/>
<rect x="612.50" y="893.24" width="117.10" height="14.91" fill="#f5f7d0" stroke="#959595" stroke-width="1.7"/>
<rect x="729.60" y="893.24" width="117.10" height="14.91" fill="#fee295" stroke="#959595" stroke-width="1.7"/>
<rect x="135.20" y="908.14" width="117.10" height="14.91" fill="#97c3dd" stroke="#959595" stroke-width="1.7"/>
<rect x="252.30" y="908.14" width="117.10" height="14.91" fill="#fb8b58" stroke="#959595" stroke-width="1.7"/>
<rect x="369.40" y="908.14" width="117.30" height="14.91" fill="#fdad6e" stroke="#959595" stroke-width="1.7"/>
<rect x="495.30" y="908.14" width="117.20" height="14.91" fill="#d4ebf4" stroke="#959595" stroke-width="1.7"/>
<rect x="612.50" y="908.14" width="117.10" height="14.91" fill="#f7f7cc" stroke="#959595" stroke-width="1.7"/>
<rect x="729.60" y="908.14" width="117.10" height="14.91" fill="#fcefb0" stroke="#959595" stroke-width="1.7"/>
<rect x="135.20" y="923.05" width="117.10" height="14.91" fill="#add1e5" stroke="#959595" stroke-width="1.7"/>
<rect x="252.30" y="923.05" width="117.10" height="14.91" fill="#fa8856" stroke="#959595" stroke-width="1.7"/>
<rect x="369.40" y="923.05" width="117.30" height="14.91" fill="#fdb070" stroke="#959595" stroke-width="1.7"/>
<rect x="495.30" y="923.05" width="117.20" height="14.91" fill="#b3d5e7" stroke="#959595" stroke-width="1.7"/>
<rect x="612.50" y="923.05" width="117.10" height="14.91" fill="#eff6db" stroke="#959595" stroke-width="1.7"/>
<rect x="729.60" y="923.05" width="117.10" height="14.91" fill="#fcefb0" stroke="#959595" stroke-width="1.7"/>
<rect x="135.20" y="937.95" width="117.10" height="14.91" fill="#9ec8e0" stroke="#959595" stroke-width="1.7"/>
<rect x="252.30" y="937.95" width="117.10" height="14.91" fill="#fa8856" stroke="#959595" stroke-width="1.7"/>
<rect x="369.40" y="937.95" width="117.30" height="14.91" fill="#fdb674" stroke="#959595" stroke-width="1.7"/>
<rect x="495.30" y="937.95" width="117.20" height="14.91" fill="#b3d5e7" stroke="#959595" stroke-width="1.7"/>
<rect x="612.50" y="937.95" width="117.10" height="14.91" fill="#f7f7cc" stroke="#959595" stroke-width="1.7"/>
<rect x="729.60" y="937.95" width="117.10" height="14.91" fill="#fcedad" stroke="#959595" stroke-width="1.7"/>
<rect x="135.20" y="952.86" width="117.10" height="14.91" fill="#fde8a1" stroke="#959595" stroke-width="1.7"/>
<rect x="252.30" y="952.86" width="117.10" height="14.91" fill="#fde9a3" stroke="#959595" stroke-width="1.7"/>
<rect x="369.40" y="952.86" width="117.30" height="14.91" fill="#ef6c47" stroke="#959595" stroke-width="1.7"/>
<rect x="495.30" y="952.86" width="117.20" height="14.91" fill="#a4cce2" stroke="#959595" stroke-width="1.7"/>
<rect x="612.50" y="952.86" width="117.10" height="14.91" fill="#b3d5e7" stroke="#959595" stroke-width="1.7"/>
<rect x="729.60" y="952.86" width="117.10" height="14.91" fill="#fbf6c0" stroke="#959595" stroke-width="1.7"/>
<rect x="135.20" y="967.77" width="117.10" height="14.91" fill="#fbf7c2" stroke="#959595" stroke-width="1.7"/>
<rect x="252.30" y="967.77" width="117.10" height="14.91" fill="#fcf2b7" stroke="#959595" stroke-width="1.7"/>
<rect x="369.40" y="967.77" width="117.30" height="14.91" fill="#e14934" stroke="#959595" stroke-width="1.7"/>
<rect x="495.30" y="967.77" width="117.20" height="14.91" fill="#ebf5e3" stroke="#959595" stroke-width="1.7"/>
<rect x="612.50" y="967.77" width="117.10" height="14.91" fill="#97c3dd" stroke="#959595" stroke-width="1.7"/>
<rect x="729.60" y="967.77" width="117.10" height="14.91" fill="#f9f8c8" stroke="#959595" stroke-width="1.7"/>
<rect x="135.20" y="982.67" width="117.10" height="14.91" fill="#fbf4bc" stroke="#959595" stroke-width="1.7"/>
<rect x="252.30" y="982.67" width="117.10" height="14.91" fill="#fcf4bb" stroke="#959595" stroke-width="1.7"/>
<rect x="369.40" y="982.67" width="117.30" height="14.91" fill="#e14934" stroke="#959595" stroke-width="1.7"/>
<rect x="495.30" y="982.67" width="117.20" height="14.91" fill="#c7e2ef" stroke="#959595" stroke-width="1.7"/>
<rect x="612.50" y="982.67" width="117.10" height="14.91" fill="#b0d4e6" stroke="#959595" stroke-width="1.7"/>
<rect x="729.60" y="982.67" width="117.10" height="14.91" fill="#fcedad" stroke="#959595" stroke-width="1.7"/>
<rect x="135.20" y="997.58" width="117.10" height="14.91" fill="#fdb674" stroke="#959595" stroke-width="1.7"/>
<rect x="252.30" y="997.58" width="117.10" height="14.91" fill="#fed387" stroke="#959595" stroke-width="1.7"/>
<rect x="369.40" y="997.58" width="117.30" height="14.91" fill="#fdae6f" stroke="#959595" stroke-width="1.7"/>
<rect x="495.30" y="997.58" width="117.20" height="14.91" fill="#cee7f1" stroke="#959595" stroke-width="1.7"/>
<rect x="612.50" y="997.58" width="117.10" height="14.91" fill="#c1deed" stroke="#959595" stroke-width="1.7"/>
<rect x="729.60" y="997.58" width="117.10" height="14.91" fill="#b3d5e7" stroke="#959595" stroke-width="1.7"/>
<rect x="135.20" y="1012.48" width="117.10" height="14.91" fill="#fdaa6c" stroke="#959595" stroke-width="1.7"/>
<rect x="252.30" y="1012.48" width="117.10" height="14.91" fill="#fdbd79" stroke="#959595" stroke-width="1.7"/>
<rect x="369.40" y="1012.48" width="117.30" height="14.91" fill="#fee090" stroke="#959595" stroke-width="1.7"/>
<rect x="495.30" y="1012.48" width="117.20" height="14.91" fill="#d0e9f2" stroke="#959595" stroke-width="1.7"/>
<rect x="612.50" y="1012.48" width="117.10" height="14.91" fill="#a7cde3" stroke="#959595" stroke-width="1.7"/>
<rect x="729.60" y="1012.48" width="117.10" height="14.91" fill="#c7e2ef" stroke="#959595" stroke-width="1.7"/>
<rect x="135.20" y="1027.39" width="117.10" height="14.91" fill="#fdb070" stroke="#959595" stroke-width="1.7"/>
<rect x="252.30" y="1027.39" width="117.10" height="14.91" fill="#fcedad" stroke="#959595" stroke-width="1.7"/>
<rect x="369.40" y="1027.39" width="117.30" height="14.91" fill="#fdb070" stroke="#959595" stroke-width="1.7"/>
<rect x="495.30" y="1027.39" width="117.20" height="14.91" fill="#99c4de" stroke="#959595" stroke-width="1.7"/>
<rect x="612.50" y="1027.39" width="117.10" height="14.91" fill="#b3d5e7" stroke="#959595" stroke-width="1.7"/>
<rect x="729.60" y="1027.39" width="117.10" height="14.91" fill="#f7f7cc" stroke="#959595" stroke-width="1.7"/>
<rect x="135.20" y="1042.30" width="117.10" height="14.91" fill="#fdbd79" stroke="#959595" stroke-width="1.7"/>
<rect x="252.30" y="1042.30" width="117.10" height="14.91" fill="#fdb674" stroke="#959595" stroke-width="1.7"/>
<rect x="369.40" y="1042.30" width="117.30" height="14.91" fill="#fdb070" stroke="#959595" stroke-width="1.7"/>
<rect x="495.30" y="1042.30" width="117.20" height="14.91" fill="#b5d7e8" stroke="#959595" stroke-width="1.7"/>
<rect x="612.50" y="1042.30" width="117.10" height="14.91" fill="#b0d4e6" stroke="#959595" stroke-width="1.7"/>
<rect x="729.60" y="1042.30" width="117.10" height="14.91" fill="#e2f3f4" stroke="#959595" stroke-width="1.7"/>
<rect x="135.20" y="1057.20" width="117.10" height="14.91" fill="#fdc77f" stroke="#959595" stroke-width="1.7"/>
<rect x="252.30" y="1057.20" width="117.10" height="14.91" fill="#fdc37d" stroke="#959595" stroke-width="1.7"/>
<rect x="369.40" y="1057.20" width="117.30" height="14.91" fill="#fdaa6c" stroke="#959595" stroke-width="1.7"/>
<rect x="495.30" y="1057.20" width="117.20" height="14.91" fill="#b5d7e8" stroke="#959595" stroke-width="1.7"/>
<rect x="612.50" y="1057.20" width="117.10" height="14.91" fill="#99c4de" stroke="#959595" stroke-width="1.7"/>
<rect x="729.60" y="1057.20" width="117.10" height="14.91" fill="#eff6db" stroke="#959595" stroke-width="1.7"/>
<rect x="135.20" y="1072.11" width="117.10" height="14.91" fill="#fedc8d" stroke="#959595" stroke-width="1.7"/>
<rect x="252.30" y="1072.11" width="117.10" height="14.91" fill="#fdc77f" stroke="#959595" stroke-width="1.7"/>
<rect x="369.40" y="1072.11" width="117.30" height="14.91" fill="#fda86b" stroke="#959595" stroke-width="1.7"/>
<rect x="495.30" y="1072.11" width="117.20" height="14.91" fill="#add1e5" stroke="#959595" stroke-width="1.7"/>
<rect x="612.50" y="1072.11" width="117.10" height="14.91" fill="#add1e5" stroke="#959595" stroke-width="1.7"/>
<rect x="729.60" y="1072.11" width="117.10" height="14.91" fill="#ecf5e2" stroke="#959595" stroke-width="1.7"/>
<g font-size="13.2" fill="#000">
<text x="854.3" y="70.60">SLC17A6</text>
<text x="854.3" y="85.51">9630013A09RIK</text>
<text x="854.3" y="100.42">F630107L03RIK</text>
<text x="854.3" y="115.32">DPP10</text>
<text x="854.3" y="130.23">MEF2C</text>
<text x="854.3" y="145.13">TAX1BP1</text>
<text x="854.3" y="160.04">ZDHHC21</text>
<text x="854.3" y="174.95">DPYSL5</text>
<text x="854.3" y="189.85">SSTR2</text>
<text x="854.3" y="204.76">COL6A1</text>
<text x="854.3" y="219.66">DLK1</text>
<text x="854.3" y="234.57">CALB2</text>
<text x="854.3" y="249.48">0610007P22RIK</text>
<text x="854.3" y="264.38">CACNG5</text>
<text x="854.3" y="279.29">RPL7A</text>
<text x="854.3" y="294.19">PSMB5</text>
<text x="854.3" y="309.10">1700086L19RIK</text>
<text x="854.3" y="324.00">7030401E22RIK</text>
<text x="854.3" y="338.91">FOS</text>
<text x="854.3" y="353.82">EGR4</text>
<text x="854.3" y="368.72">ERRFI1</text>
<text x="854.3" y="383.63">NR4A2</text>
<text x="854.3" y="398.53">LOC100046232</text>
<text x="854.3" y="413.44">GADD45G</text>
<text x="854.3" y="428.35">SLC25A25</text>
<text x="854.3" y="443.25">DUSP1</text>
<text x="854.3" y="458.16">JUNB</text>
<text x="854.3" y="473.06">COQ10B</text>
<text x="854.3" y="487.97">PER1</text>
<text x="854.3" y="502.88">JMJD3</text>
<text x="854.3" y="517.78">RASL11A</text>
<text x="854.3" y="532.69">FBXO33</text>
<text x="854.3" y="547.59">FRMD6</text>
<text x="854.3" y="562.50">CEBPB</text>
<text x="854.3" y="577.41">EGR3</text>
<text x="854.3" y="592.31">A130062D16RIK</text>
<text x="854.3" y="607.22">AXUD1</text>
<text x="854.3" y="622.12">ARC</text>
<text x="854.3" y="637.03">OSBPL6</text>
<text x="854.3" y="651.94">PROX1</text>
<text x="854.3" y="666.84">INHBA</text>
<text x="854.3" y="681.75">PHF21B</text>
<text x="854.3" y="696.65">CDKN1A</text>
<text x="854.3" y="711.56">A830030H10RIK</text>
<text x="854.3" y="726.47">PLK2</text>
<text x="854.3" y="741.37">CENPA</text>
<text x="854.3" y="756.28">GRASP</text>
<text x="854.3" y="771.19">GADD45B</text>
<text x="854.3" y="786.09">PCDH8</text>
<text x="854.3" y="801.00">EG244911</text>
<text x="854.3" y="815.90">GCH1</text>
<text x="854.3" y="830.81">NPTX2</text>
<text x="854.3" y="845.72">BDNF</text>
<text x="854.3" y="860.62">SERTAD1</text>
<text x="854.3" y="875.53">BAG3</text>
<text x="854.3" y="890.43">EMD</text>
<text x="854.3" y="905.34">C330006P03RIK</text>
<text x="854.3" y="920.25">FOSL2</text>
<text x="854.3" y="935.15">DUSP4</text>
<text x="854.3" y="950.06">FOSB</text>
<text x="854.3" y="964.96">CAMKK1</text>
<text x="854.3" y="979.87">TANC1</text>
<text x="854.3" y="994.77">4932416C15RIK</text>
<text x="854.3" y="1009.68">1700019N12RIK</text>
<text x="854.3" y="1024.59">GM484</text>
<text x="854.3" y="1039.49">RASL10A</text>
<text x="854.3" y="1054.40">C1QL2</text>
<text x="854.3" y="1069.31">WFS1</text>
<text x="854.3" y="1084.21">SLC30A3</text>
</g>
<path d="M134.60,65.95H116.90V80.86H134.60M134.60,95.77H115.90V110.67H134.60M134.60,140.48H118.40V155.39H134.60M134.60,125.58H110.90V147.94H118.40M115.90,103.22H94.00V136.76H110.90M116.90,73.41H81.90V119.99H94.00M134.60,170.30H124.00V185.20H134.60M134.60,244.83H125.20V259.73H134.60M134.60,229.92H118.10V252.28H125.20M134.60,215.01H114.00V241.10H118.10M134.60,200.11H106.10V228.06H114.00M124.00,177.75H58.40V214.08H106.10M81.90,96.70H49.10V195.91H58.40M134.60,274.64H93.00V289.54H134.60M134.60,304.45H115.90V319.36H134.60M134.60,349.17H124.90V364.07H134.60M134.60,334.26H117.50V356.62H124.90M134.60,408.79H129.90V423.70H134.60M134.60,393.88H118.70V416.24H129.90M134.60,378.98H113.50V405.06H118.70M117.50,345.44H103.30V392.02H113.50M134.60,468.42H129.60V483.32H134.60M134.60,453.51H125.90V475.87H129.60M134.60,438.60H115.60V464.69H125.90M134.60,528.04H125.50V542.94H134.60M134.60,513.13H120.60V535.49H125.50M134.60,498.23H107.60V524.31H120.60M115.60,451.65H101.20V511.27H107.60M103.30,368.73H97.10V481.46H101.20M115.90,311.90H76.10V425.09H97.10M134.60,557.85H120.00V572.76H134.60M134.60,617.48H131.10V632.38H134.60M134.60,602.57H125.90V624.93H131.10M134.60,587.66H119.70V613.75H125.90M120.00,565.30H105.70V600.71H119.70M134.60,662.19H125.90V677.10H134.60M134.60,647.29H120.60V669.65H125.90M134.60,692.00H112.80V706.91H134.60M120.60,658.47H110.10V699.46H112.80M134.60,736.72H123.10V751.63H134.60M134.60,721.82H118.70V744.18H123.10M134.60,766.54H128.90V781.44H134.60M134.60,811.25H132.60V826.16H134.60M134.60,841.07H130.60V855.97H134.60M132.60,818.71H124.70V848.52H130.60M134.60,796.35H123.50V833.61H124.70M128.90,773.99H117.30V814.98H123.50M118.70,733.00H112.50V794.48H117.30M134.60,870.88H121.80V885.78H134.60M134.60,930.50H128.00V945.41H134.60M134.60,915.60H124.30V937.95H128.00M134.60,900.69H120.60V926.77H124.30M121.80,878.33H105.70V913.73H120.60M112.50,763.74H102.60V896.03H105.70M110.10,678.96H97.10V829.89H102.60M105.70,583.00H85.30V754.42H97.10M134.60,975.22H120.60V990.12H134.60M134.60,960.31H110.70V982.67H120.60M134.60,1005.03H119.70V1019.94H134.60M134.60,1064.66H128.60V1079.56H134.60M134.60,1049.75H122.70V1072.11H128.60M134.60,1034.84H113.50V1060.93H122.70M119.70,1012.48H107.30V1047.89H113.50M110.70,971.49H82.20V1030.18H107.30M85.30,668.71H58.70V1000.84H82.20M76.10,368.50H47.00V834.78H58.70M93.00,282.09H31.90V601.64H47.00M49.10,146.31H18.20V441.86H31.90" fill="none" stroke="#000" stroke-width="1.75" stroke-linejoin="miter" stroke-linecap="square"/>
<defs><linearGradient id="gA" x1="0" y1="1" x2="0" y2="0">
<stop offset="0.0000" stop-color="#4575b4"/>
<stop offset="0.1667" stop-color="#91bfdb"/>
<stop offset="0.3333" stop-color="#e0f3f8"/>
<stop offset="0.5000" stop-color="#fbf8c4"/>
<stop offset="0.6667" stop-color="#fee090"/>
<stop offset="0.8333" stop-color="#fc8d59"/>
<stop offset="1.0000" stop-color="#d73027"/>
</linearGradient>
<linearGradient id="gB" x1="0" y1="1" x2="0" y2="0">
<stop offset="0.0000" stop-color="#3953a4"/>
<stop offset="0.1250" stop-color="#6c5ba7"/>
<stop offset="0.2500" stop-color="#a08bc4"/>
<stop offset="0.3750" stop-color="#d8c6e2"/>
<stop offset="0.5000" stop-color="#ffffff"/>
<stop offset="0.6250" stop-color="#fbd6c8"/>
<stop offset="0.7500" stop-color="#f5a383"/>
<stop offset="0.8750" stop-color="#ef6a4c"/>
<stop offset="1.0000" stop-color="#ed2024"/>
</linearGradient></defs>
<rect x="969.3" y="25.3" width="22.6" height="351.2" fill="url(#gA)"/>
<text x="1000.6" y="34.6" font-size="23" fill="#000">2</text>
<text x="1000.6" y="121.7" font-size="23" fill="#000">1</text>
<text x="1000.6" y="209.7" font-size="23" fill="#000">0</text>
<text x="1000.6" y="296.8" font-size="23" fill="#000">−1</text>
<text x="1000.6" y="383.9" font-size="23" fill="#000">−2</text>
<text x="1034" y="42" font-size="22.2" font-weight="bold" fill="#000">Group</text>
<rect x="1033.9" y="51.3" width="30.9" height="33.2" fill="#4cc3cd" stroke="#959595" stroke-width="1.7"/>
<rect x="1033.9" y="84.5" width="30.9" height="33.2" fill="#f48d89" stroke="#959595" stroke-width="1.7"/>
<text transform="translate(1073.5,76.2) scale(0.87,1)" font-size="22" font-style="italic" fill="#000">Egr3 -/-</text>
<text x="1071.6" y="108.8" font-size="21.8" fill="#000">WT</text>
<text x="0" y="0" font-size="51.5" font-weight="bold" fill="#000" transform="translate(-0.7,35.8) scale(0.81,1)">A.</text>
<g shape-rendering="crispEdges">
<rect x="72.40" y="1331.70" width="81.68" height="10.87" fill="#ab97ca"/>
<rect x="154.08" y="1331.70" width="81.68" height="10.87" fill="#ece4f1"/>
<rect x="235.76" y="1331.70" width="81.68" height="10.87" fill="#bfacd5"/>
<rect x="317.44" y="1331.70" width="81.68" height="10.87" fill="#f8bba4"/>
<rect x="399.12" y="1331.70" width="81.68" height="10.87" fill="#fce1d7"/>
<rect x="480.80" y="1331.70" width="81.68" height="10.87" fill="#fdefe9"/>
<rect x="562.48" y="1331.70" width="81.68" height="10.87" fill="#fcfafd"/>
<rect x="644.16" y="1331.70" width="81.68" height="10.87" fill="#ffffff"/>
<rect x="725.84" y="1331.70" width="81.68" height="10.87" fill="#fcded3"/>
<rect x="807.52" y="1331.70" width="81.68" height="10.87" fill="#c4b1d7"/>
<rect x="889.20" y="1331.70" width="81.68" height="10.87" fill="#5157a5"/>
<rect x="970.88" y="1331.70" width="81.68" height="10.87" fill="#3953a4"/>
<rect x="1052.56" y="1331.70" width="81.68" height="10.87" fill="#3953a4"/>
<rect x="72.40" y="1342.57" width="81.68" height="10.87" fill="#8b78b8"/>
<rect x="154.08" y="1342.57" width="81.68" height="10.87" fill="#7b68af"/>
<rect x="235.76" y="1342.57" width="81.68" height="10.87" fill="#fffcfb"/>
<rect x="317.44" y="1342.57" width="81.68" height="10.87" fill="#bdaad4"/>
<rect x="399.12" y="1342.57" width="81.68" height="10.87" fill="#bdaad4"/>
<rect x="480.80" y="1342.57" width="81.68" height="10.87" fill="#ece4f1"/>
<rect x="562.48" y="1342.57" width="81.68" height="10.87" fill="#fffdfd"/>
<rect x="644.16" y="1342.57" width="81.68" height="10.87" fill="#ffffff"/>
<rect x="725.84" y="1342.57" width="81.68" height="10.87" fill="#f38c6d"/>
<rect x="807.52" y="1342.57" width="81.68" height="10.87" fill="#f6ad91"/>
<rect x="889.20" y="1342.57" width="81.68" height="10.87" fill="#fde8e0"/>
<rect x="970.88" y="1342.57" width="81.68" height="10.87" fill="#3953a4"/>
<rect x="1052.56" y="1342.57" width="81.68" height="10.87" fill="#4355a5"/>
<rect x="72.40" y="1353.43" width="81.68" height="10.87" fill="#cdbadc"/>
<rect x="154.08" y="1353.43" width="81.68" height="10.87" fill="#c6b3d8"/>
<rect x="235.76" y="1353.43" width="81.68" height="10.87" fill="#fffcfb"/>
<rect x="317.44" y="1353.43" width="81.68" height="10.87" fill="#f4eff7"/>
<rect x="399.12" y="1353.43" width="81.68" height="10.87" fill="#e3d6ea"/>
<rect x="480.80" y="1353.43" width="81.68" height="10.87" fill="#ffffff"/>
<rect x="562.48" y="1353.43" width="81.68" height="10.87" fill="#fcfafd"/>
<rect x="644.16" y="1353.43" width="81.68" height="10.87" fill="#fcfafd"/>
<rect x="725.84" y="1353.43" width="81.68" height="10.87" fill="#fde6de"/>
<rect x="807.52" y="1353.43" width="81.68" height="10.87" fill="#fcded3"/>
<rect x="889.20" y="1353.43" width="81.68" height="10.87" fill="#fcded3"/>
<rect x="970.88" y="1353.43" width="81.68" height="10.87" fill="#bba7d2"/>
<rect x="1052.56" y="1353.43" width="81.68" height="10.87" fill="#a490c6"/>
<rect x="72.40" y="1364.30" width="81.68" height="10.87" fill="#fdefe9"/>
<rect x="154.08" y="1364.30" width="81.68" height="10.87" fill="#ddcde5"/>
<rect x="235.76" y="1364.30" width="81.68" height="10.87" fill="#d4c1e0"/>
<rect x="317.44" y="1364.30" width="81.68" height="10.87" fill="#cdbadc"/>
<rect x="399.12" y="1364.30" width="81.68" height="10.87" fill="#c6b3d8"/>
<rect x="480.80" y="1364.30" width="81.68" height="10.87" fill="#f4eff7"/>
<rect x="562.48" y="1364.30" width="81.68" height="10.87" fill="#fef7f4"/>
<rect x="644.16" y="1364.30" width="81.68" height="10.87" fill="#fef5f2"/>
<rect x="725.84" y="1364.30" width="81.68" height="10.87" fill="#fcded3"/>
<rect x="807.52" y="1364.30" width="81.68" height="10.87" fill="#faccba"/>
<rect x="889.20" y="1364.30" width="81.68" height="10.87" fill="#faccba"/>
<rect x="970.88" y="1364.30" width="81.68" height="10.87" fill="#ffffff"/>
<rect x="1052.56" y="1364.30" width="81.68" height="10.87" fill="#cdbadc"/>
<rect x="72.40" y="1375.16" width="81.68" height="10.87" fill="#ffffff"/>
<rect x="154.08" y="1375.16" width="81.68" height="10.87" fill="#ffffff"/>
<rect x="235.76" y="1375.16" width="81.68" height="10.87" fill="#bdaad4"/>
<rect x="317.44" y="1375.16" width="81.68" height="10.87" fill="#fcfafd"/>
<rect x="399.12" y="1375.16" width="81.68" height="10.87" fill="#efe8f3"/>
<rect x="480.80" y="1375.16" width="81.68" height="10.87" fill="#e9dfef"/>
<rect x="562.48" y="1375.16" width="81.68" height="10.87" fill="#fef5f2"/>
<rect x="644.16" y="1375.16" width="81.68" height="10.87" fill="#fef4f0"/>
<rect x="725.84" y="1375.16" width="81.68" height="10.87" fill="#fcded3"/>
<rect x="807.52" y="1375.16" width="81.68" height="10.87" fill="#ffffff"/>
<rect x="889.20" y="1375.16" width="81.68" height="10.87" fill="#ffffff"/>
<rect x="970.88" y="1375.16" width="81.68" height="10.87" fill="#ffffff"/>
<rect x="1052.56" y="1375.16" width="81.68" height="10.87" fill="#ffffff"/>
<rect x="72.40" y="1386.03" width="81.68" height="10.87" fill="#ffffff"/>
<rect x="154.08" y="1386.03" width="81.68" height="10.87" fill="#fde6de"/>
<rect x="235.76" y="1386.03" width="81.68" height="10.87" fill="#efe8f3"/>
<rect x="317.44" y="1386.03" width="81.68" height="10.87" fill="#ffffff"/>
<rect x="399.12" y="1386.03" width="81.68" height="10.87" fill="#fcfafd"/>
<rect x="480.80" y="1386.03" width="81.68" height="10.87" fill="#fef7f4"/>
<rect x="562.48" y="1386.03" width="81.68" height="10.87" fill="#faf8fc"/>
<rect x="644.16" y="1386.03" width="81.68" height="10.87" fill="#faf8fc"/>
<rect x="725.84" y="1386.03" width="81.68" height="10.87" fill="#fffdfd"/>
<rect x="807.52" y="1386.03" width="81.68" height="10.87" fill="#ffffff"/>
<rect x="889.20" y="1386.03" width="81.68" height="10.87" fill="#ffffff"/>
<rect x="970.88" y="1386.03" width="81.68" height="10.87" fill="#ffffff"/>
<rect x="1052.56" y="1386.03" width="81.68" height="10.87" fill="#ffffff"/>
<rect x="72.40" y="1396.90" width="81.68" height="10.87" fill="#ffffff"/>
<rect x="154.08" y="1396.90" width="81.68" height="10.87" fill="#fef4f0"/>
<rect x="235.76" y="1396.90" width="81.68" height="10.87" fill="#fef5f2"/>
<rect x="317.44" y="1396.90" width="81.68" height="10.87" fill="#ffffff"/>
<rect x="399.12" y="1396.90" width="81.68" height="10.87" fill="#ffffff"/>
<rect x="480.80" y="1396.90" width="81.68" height="10.87" fill="#fef5f2"/>
<rect x="562.48" y="1396.90" width="81.68" height="10.87" fill="#ffffff"/>
<rect x="644.16" y="1396.90" width="81.68" height="10.87" fill="#ffffff"/>
<rect x="725.84" y="1396.90" width="81.68" height="10.87" fill="#f4eff7"/>
<rect x="807.52" y="1396.90" width="81.68" height="10.87" fill="#ffffff"/>
<rect x="889.20" y="1396.90" width="81.68" height="10.87" fill="#ffffff"/>
<rect x="970.88" y="1396.90" width="81.68" height="10.87" fill="#ffffff"/>
<rect x="1052.56" y="1396.90" width="81.68" height="10.87" fill="#ffffff"/>
<rect x="72.40" y="1407.76" width="81.68" height="10.87" fill="#faccba"/>
<rect x="154.08" y="1407.76" width="81.68" height="10.87" fill="#fef4f0"/>
<rect x="235.76" y="1407.76" width="81.68" height="10.87" fill="#efe8f3"/>
<rect x="317.44" y="1407.76" width="81.68" height="10.87" fill="#fdefe9"/>
<rect x="399.12" y="1407.76" width="81.68" height="10.87" fill="#fef5f2"/>
<rect x="480.80" y="1407.76" width="81.68" height="10.87" fill="#fef5f2"/>
<rect x="562.48" y="1407.76" width="81.68" height="10.87" fill="#ffffff"/>
<rect x="644.16" y="1407.76" width="81.68" height="10.87" fill="#ffffff"/>
<rect x="725.84" y="1407.76" width="81.68" height="10.87" fill="#ffffff"/>
<rect x="807.52" y="1407.76" width="81.68" height="10.87" fill="#fef7f4"/>
<rect x="889.20" y="1407.76" width="81.68" height="10.87" fill="#ffffff"/>
<rect x="970.88" y="1407.76" width="81.68" height="10.87" fill="#fffcfb"/>
<rect x="1052.56" y="1407.76" width="81.68" height="10.87" fill="#e8ddee"/>
<rect x="72.40" y="1418.63" width="81.68" height="10.87" fill="#fef7f4"/>
<rect x="154.08" y="1418.63" width="81.68" height="10.87" fill="#fcfafd"/>
<rect x="235.76" y="1418.63" width="81.68" height="10.87" fill="#fffaf8"/>
<rect x="317.44" y="1418.63" width="81.68" height="10.87" fill="#ffffff"/>
<rect x="399.12" y="1418.63" width="81.68" height="10.87" fill="#ffffff"/>
<rect x="480.80" y="1418.63" width="81.68" height="10.87" fill="#fef7f4"/>
<rect x="562.48" y="1418.63" width="81.68" height="10.87" fill="#fef5f2"/>
<rect x="644.16" y="1418.63" width="81.68" height="10.87" fill="#fef5f2"/>
<rect x="725.84" y="1418.63" width="81.68" height="10.87" fill="#ffffff"/>
<rect x="807.52" y="1418.63" width="81.68" height="10.87" fill="#f8bba4"/>
<rect x="889.20" y="1418.63" width="81.68" height="10.87" fill="#f4eff7"/>
<rect x="970.88" y="1418.63" width="81.68" height="10.87" fill="#e8ddee"/>
<rect x="1052.56" y="1418.63" width="81.68" height="10.87" fill="#efe8f3"/>
<rect x="72.40" y="1429.49" width="81.68" height="10.87" fill="#ece4f1"/>
<rect x="154.08" y="1429.49" width="81.68" height="10.87" fill="#ffffff"/>
<rect x="235.76" y="1429.49" width="81.68" height="10.87" fill="#cdbadc"/>
<rect x="317.44" y="1429.49" width="81.68" height="10.87" fill="#f7f4f9"/>
<rect x="399.12" y="1429.49" width="81.68" height="10.87" fill="#f7f4f9"/>
<rect x="480.80" y="1429.49" width="81.68" height="10.87" fill="#fcfafd"/>
<rect x="562.48" y="1429.49" width="81.68" height="10.87" fill="#efe8f3"/>
<rect x="644.16" y="1429.49" width="81.68" height="10.87" fill="#efe8f3"/>
<rect x="725.84" y="1429.49" width="81.68" height="10.87" fill="#eee6f2"/>
<rect x="807.52" y="1429.49" width="81.68" height="10.87" fill="#f5a383"/>
<rect x="889.20" y="1429.49" width="81.68" height="10.87" fill="#efe8f3"/>
<rect x="970.88" y="1429.49" width="81.68" height="10.87" fill="#ebe1f0"/>
<rect x="1052.56" y="1429.49" width="81.68" height="10.87" fill="#e8ddee"/>
<rect x="72.40" y="1440.36" width="81.68" height="10.87" fill="#fad0c0"/>
<rect x="154.08" y="1440.36" width="81.68" height="10.87" fill="#b29ece"/>
<rect x="235.76" y="1440.36" width="81.68" height="10.87" fill="#f4eff7"/>
<rect x="317.44" y="1440.36" width="81.68" height="10.87" fill="#f4eff7"/>
<rect x="399.12" y="1440.36" width="81.68" height="10.87" fill="#f7f4f9"/>
<rect x="480.80" y="1440.36" width="81.68" height="10.87" fill="#ffffff"/>
<rect x="562.48" y="1440.36" width="81.68" height="10.87" fill="#fdede7"/>
<rect x="644.16" y="1440.36" width="81.68" height="10.87" fill="#fdeae2"/>
<rect x="725.84" y="1440.36" width="81.68" height="10.87" fill="#e3d6ea"/>
<rect x="807.52" y="1440.36" width="81.68" height="10.87" fill="#fef5f2"/>
<rect x="889.20" y="1440.36" width="81.68" height="10.87" fill="#ece4f1"/>
<rect x="970.88" y="1440.36" width="81.68" height="10.87" fill="#fcfafd"/>
<rect x="1052.56" y="1440.36" width="81.68" height="10.87" fill="#ebe1f0"/>
<rect x="72.40" y="1451.23" width="81.68" height="10.87" fill="#ffffff"/>
<rect x="154.08" y="1451.23" width="81.68" height="10.87" fill="#3953a4"/>
<rect x="235.76" y="1451.23" width="81.68" height="10.87" fill="#fffcfb"/>
<rect x="317.44" y="1451.23" width="81.68" height="10.87" fill="#efe8f3"/>
<rect x="399.12" y="1451.23" width="81.68" height="10.87" fill="#ffffff"/>
<rect x="480.80" y="1451.23" width="81.68" height="10.87" fill="#ffffff"/>
<rect x="562.48" y="1451.23" width="81.68" height="10.87" fill="#f3edf6"/>
<rect x="644.16" y="1451.23" width="81.68" height="10.87" fill="#f3edf6"/>
<rect x="725.84" y="1451.23" width="81.68" height="10.87" fill="#fce0d5"/>
<rect x="807.52" y="1451.23" width="81.68" height="10.87" fill="#ffffff"/>
<rect x="889.20" y="1451.23" width="81.68" height="10.87" fill="#ffffff"/>
<rect x="970.88" y="1451.23" width="81.68" height="10.87" fill="#ffffff"/>
<rect x="1052.56" y="1451.23" width="81.68" height="10.87" fill="#ffffff"/>
<rect x="72.40" y="1462.09" width="81.68" height="10.87" fill="#ffffff"/>
<rect x="154.08" y="1462.09" width="81.68" height="10.87" fill="#a994c9"/>
<rect x="235.76" y="1462.09" width="81.68" height="10.87" fill="#fde8e0"/>
<rect x="317.44" y="1462.09" width="81.68" height="10.87" fill="#ddcde5"/>
<rect x="399.12" y="1462.09" width="81.68" height="10.87" fill="#efe8f3"/>
<rect x="480.80" y="1462.09" width="81.68" height="10.87" fill="#f9f6fa"/>
<rect x="562.48" y="1462.09" width="81.68" height="10.87" fill="#fffdfd"/>
<rect x="644.16" y="1462.09" width="81.68" height="10.87" fill="#fffdfd"/>
<rect x="725.84" y="1462.09" width="81.68" height="10.87" fill="#facab7"/>
<rect x="807.52" y="1462.09" width="81.68" height="10.87" fill="#fce1d7"/>
<rect x="889.20" y="1462.09" width="81.68" height="10.87" fill="#f3edf6"/>
<rect x="970.88" y="1462.09" width="81.68" height="10.87" fill="#fce5dc"/>
<rect x="1052.56" y="1462.09" width="81.68" height="10.87" fill="#fce0d5"/>
<rect x="72.40" y="1472.96" width="81.68" height="10.87" fill="#ffffff"/>
<rect x="154.08" y="1472.96" width="81.68" height="10.87" fill="#ffffff"/>
<rect x="235.76" y="1472.96" width="81.68" height="10.87" fill="#f7b399"/>
<rect x="317.44" y="1472.96" width="81.68" height="10.87" fill="#f7f4f9"/>
<rect x="399.12" y="1472.96" width="81.68" height="10.87" fill="#ffffff"/>
<rect x="480.80" y="1472.96" width="81.68" height="10.87" fill="#ffffff"/>
<rect x="562.48" y="1472.96" width="81.68" height="10.87" fill="#fef7f4"/>
<rect x="644.16" y="1472.96" width="81.68" height="10.87" fill="#fef7f4"/>
<rect x="725.84" y="1472.96" width="81.68" height="10.87" fill="#f9c8b5"/>
<rect x="807.52" y="1472.96" width="81.68" height="10.87" fill="#facab7"/>
<rect x="889.20" y="1472.96" width="81.68" height="10.87" fill="#f7f4f9"/>
<rect x="970.88" y="1472.96" width="81.68" height="10.87" fill="#dac8e3"/>
<rect x="1052.56" y="1472.96" width="81.68" height="10.87" fill="#fdede7"/>
<rect x="72.40" y="1483.82" width="81.68" height="10.87" fill="#bdaad4"/>
<rect x="154.08" y="1483.82" width="81.68" height="10.87" fill="#ffffff"/>
<rect x="235.76" y="1483.82" width="81.68" height="10.87" fill="#f39374"/>
<rect x="317.44" y="1483.82" width="81.68" height="10.87" fill="#efe8f3"/>
<rect x="399.12" y="1483.82" width="81.68" height="10.87" fill="#faf8fc"/>
<rect x="480.80" y="1483.82" width="81.68" height="10.87" fill="#fcfafd"/>
<rect x="562.48" y="1483.82" width="81.68" height="10.87" fill="#f4eff7"/>
<rect x="644.16" y="1483.82" width="81.68" height="10.87" fill="#f3edf6"/>
<rect x="725.84" y="1483.82" width="81.68" height="10.87" fill="#fbd2c2"/>
<rect x="807.52" y="1483.82" width="81.68" height="10.87" fill="#ffffff"/>
<rect x="889.20" y="1483.82" width="81.68" height="10.87" fill="#ffffff"/>
<rect x="970.88" y="1483.82" width="81.68" height="10.87" fill="#ffffff"/>
<rect x="1052.56" y="1483.82" width="81.68" height="10.87" fill="#ffffff"/>
<rect x="72.40" y="1494.69" width="81.68" height="10.87" fill="#a490c6"/>
<rect x="154.08" y="1494.69" width="81.68" height="10.87" fill="#fde8e0"/>
<rect x="235.76" y="1494.69" width="81.68" height="10.87" fill="#fbd4c5"/>
<rect x="317.44" y="1494.69" width="81.68" height="10.87" fill="#ffffff"/>
<rect x="399.12" y="1494.69" width="81.68" height="10.87" fill="#fdfdfe"/>
<rect x="480.80" y="1494.69" width="81.68" height="10.87" fill="#fdfdfe"/>
<rect x="562.48" y="1494.69" width="81.68" height="10.87" fill="#fdfdfe"/>
<rect x="644.16" y="1494.69" width="81.68" height="10.87" fill="#fdfdfe"/>
<rect x="725.84" y="1494.69" width="81.68" height="10.87" fill="#fce0d5"/>
<rect x="807.52" y="1494.69" width="81.68" height="10.87" fill="#f39171"/>
<rect x="889.20" y="1494.69" width="81.68" height="10.87" fill="#fce0d5"/>
<rect x="970.88" y="1494.69" width="81.68" height="10.87" fill="#f4eff7"/>
<rect x="1052.56" y="1494.69" width="81.68" height="10.87" fill="#fce1d7"/>
<rect x="72.40" y="1505.56" width="81.68" height="10.87" fill="#c2aed6"/>
<rect x="154.08" y="1505.56" width="81.68" height="10.87" fill="#fef2ed"/>
<rect x="235.76" y="1505.56" width="81.68" height="10.87" fill="#fde8e0"/>
<rect x="317.44" y="1505.56" width="81.68" height="10.87" fill="#d1bfde"/>
<rect x="399.12" y="1505.56" width="81.68" height="10.87" fill="#dbcbe4"/>
<rect x="480.80" y="1505.56" width="81.68" height="10.87" fill="#f9f6fa"/>
<rect x="562.48" y="1505.56" width="81.68" height="10.87" fill="#e4d8eb"/>
<rect x="644.16" y="1505.56" width="81.68" height="10.87" fill="#e4d8eb"/>
<rect x="725.84" y="1505.56" width="81.68" height="10.87" fill="#f5a789"/>
<rect x="807.52" y="1505.56" width="81.68" height="10.87" fill="#f7b79f"/>
<rect x="889.20" y="1505.56" width="81.68" height="10.87" fill="#fce0d5"/>
<rect x="970.88" y="1505.56" width="81.68" height="10.87" fill="#decfe7"/>
<rect x="1052.56" y="1505.56" width="81.68" height="10.87" fill="#f6ad91"/>
<rect x="72.40" y="1516.42" width="81.68" height="10.87" fill="#fad0c0"/>
<rect x="154.08" y="1516.42" width="81.68" height="10.87" fill="#fef0eb"/>
<rect x="235.76" y="1516.42" width="81.68" height="10.87" fill="#fffcfb"/>
<rect x="317.44" y="1516.42" width="81.68" height="10.87" fill="#f3edf6"/>
<rect x="399.12" y="1516.42" width="81.68" height="10.87" fill="#ffffff"/>
<rect x="480.80" y="1516.42" width="81.68" height="10.87" fill="#ece4f1"/>
<rect x="562.48" y="1516.42" width="81.68" height="10.87" fill="#f4eff7"/>
<rect x="644.16" y="1516.42" width="81.68" height="10.87" fill="#f4eff7"/>
<rect x="725.84" y="1516.42" width="81.68" height="10.87" fill="#efe8f3"/>
<rect x="807.52" y="1516.42" width="81.68" height="10.87" fill="#eee6f2"/>
<rect x="889.20" y="1516.42" width="81.68" height="10.87" fill="#f8bba4"/>
<rect x="970.88" y="1516.42" width="81.68" height="10.87" fill="#fce0d5"/>
<rect x="1052.56" y="1516.42" width="81.68" height="10.87" fill="#f39171"/>
<rect x="72.40" y="1527.29" width="81.68" height="10.87" fill="#e8ddee"/>
<rect x="154.08" y="1527.29" width="81.68" height="10.87" fill="#b29ece"/>
<rect x="235.76" y="1527.29" width="81.68" height="10.87" fill="#f4eff7"/>
<rect x="317.44" y="1527.29" width="81.68" height="10.87" fill="#f9f6fa"/>
<rect x="399.12" y="1527.29" width="81.68" height="10.87" fill="#ffffff"/>
<rect x="480.80" y="1527.29" width="81.68" height="10.87" fill="#fffdfd"/>
<rect x="562.48" y="1527.29" width="81.68" height="10.87" fill="#f4eff7"/>
<rect x="644.16" y="1527.29" width="81.68" height="10.87" fill="#f4eff7"/>
<rect x="725.84" y="1527.29" width="81.68" height="10.87" fill="#ffffff"/>
<rect x="807.52" y="1527.29" width="81.68" height="10.87" fill="#d1bfde"/>
<rect x="889.20" y="1527.29" width="81.68" height="10.87" fill="#f7b399"/>
<rect x="970.88" y="1527.29" width="81.68" height="10.87" fill="#fdebe5"/>
<rect x="1052.56" y="1527.29" width="81.68" height="10.87" fill="#f39171"/>
<rect x="72.40" y="1538.15" width="81.68" height="10.87" fill="#7f6cb1"/>
<rect x="154.08" y="1538.15" width="81.68" height="10.87" fill="#ffffff"/>
<rect x="235.76" y="1538.15" width="81.68" height="10.87" fill="#fffcfb"/>
<rect x="317.44" y="1538.15" width="81.68" height="10.87" fill="#eee6f2"/>
<rect x="399.12" y="1538.15" width="81.68" height="10.87" fill="#fcfafd"/>
<rect x="480.80" y="1538.15" width="81.68" height="10.87" fill="#f9f6fa"/>
<rect x="562.48" y="1538.15" width="81.68" height="10.87" fill="#fef5f2"/>
<rect x="644.16" y="1538.15" width="81.68" height="10.87" fill="#fef5f2"/>
<rect x="725.84" y="1538.15" width="81.68" height="10.87" fill="#fdefe9"/>
<rect x="807.52" y="1538.15" width="81.68" height="10.87" fill="#fef4f0"/>
<rect x="889.20" y="1538.15" width="81.68" height="10.87" fill="#f9c8b5"/>
<rect x="970.88" y="1538.15" width="81.68" height="10.87" fill="#fcded3"/>
<rect x="1052.56" y="1538.15" width="81.68" height="10.87" fill="#f5a383"/>
<rect x="72.40" y="1549.02" width="81.68" height="10.87" fill="#917ebc"/>
<rect x="154.08" y="1549.02" width="81.68" height="10.87" fill="#f3edf6"/>
<rect x="235.76" y="1549.02" width="81.68" height="10.87" fill="#f6f1f8"/>
<rect x="317.44" y="1549.02" width="81.68" height="10.87" fill="#fffaf8"/>
<rect x="399.12" y="1549.02" width="81.68" height="10.87" fill="#ffffff"/>
<rect x="480.80" y="1549.02" width="81.68" height="10.87" fill="#faf8fc"/>
<rect x="562.48" y="1549.02" width="81.68" height="10.87" fill="#fdefe9"/>
<rect x="644.16" y="1549.02" width="81.68" height="10.87" fill="#fef2ed"/>
<rect x="725.84" y="1549.02" width="81.68" height="10.87" fill="#f4eff7"/>
<rect x="807.52" y="1549.02" width="81.68" height="10.87" fill="#fad0c0"/>
<rect x="889.20" y="1549.02" width="81.68" height="10.87" fill="#fffaf8"/>
<rect x="970.88" y="1549.02" width="81.68" height="10.87" fill="#f7b79f"/>
<rect x="1052.56" y="1549.02" width="81.68" height="10.87" fill="#fef5f2"/>
<rect x="72.40" y="1559.89" width="81.68" height="10.87" fill="#bfacd5"/>
<rect x="154.08" y="1559.89" width="81.68" height="10.87" fill="#f7f4f9"/>
<rect x="235.76" y="1559.89" width="81.68" height="10.87" fill="#f3edf6"/>
<rect x="317.44" y="1559.89" width="81.68" height="10.87" fill="#fef7f4"/>
<rect x="399.12" y="1559.89" width="81.68" height="10.87" fill="#fcfafd"/>
<rect x="480.80" y="1559.89" width="81.68" height="10.87" fill="#fffdfd"/>
<rect x="562.48" y="1559.89" width="81.68" height="10.87" fill="#ffffff"/>
<rect x="644.16" y="1559.89" width="81.68" height="10.87" fill="#ffffff"/>
<rect x="725.84" y="1559.89" width="81.68" height="10.87" fill="#fef4f0"/>
<rect x="807.52" y="1559.89" width="81.68" height="10.87" fill="#ffffff"/>
<rect x="889.20" y="1559.89" width="81.68" height="10.87" fill="#ffffff"/>
<rect x="970.88" y="1559.89" width="81.68" height="10.87" fill="#ffffff"/>
<rect x="1052.56" y="1559.89" width="81.68" height="10.87" fill="#ffffff"/>
<rect x="72.40" y="1570.75" width="81.68" height="10.87" fill="#8b78b8"/>
<rect x="154.08" y="1570.75" width="81.68" height="10.87" fill="#fdeae2"/>
<rect x="235.76" y="1570.75" width="81.68" height="10.87" fill="#e9dfef"/>
<rect x="317.44" y="1570.75" width="81.68" height="10.87" fill="#f9f6fa"/>
<rect x="399.12" y="1570.75" width="81.68" height="10.87" fill="#ffffff"/>
<rect x="480.80" y="1570.75" width="81.68" height="10.87" fill="#ffffff"/>
<rect x="562.48" y="1570.75" width="81.68" height="10.87" fill="#fef4f0"/>
<rect x="644.16" y="1570.75" width="81.68" height="10.87" fill="#fef5f2"/>
<rect x="725.84" y="1570.75" width="81.68" height="10.87" fill="#fef4f0"/>
<rect x="807.52" y="1570.75" width="81.68" height="10.87" fill="#ffffff"/>
<rect x="889.20" y="1570.75" width="81.68" height="10.87" fill="#ffffff"/>
<rect x="970.88" y="1570.75" width="81.68" height="10.87" fill="#ffffff"/>
<rect x="1052.56" y="1570.75" width="81.68" height="10.87" fill="#ffffff"/>
<rect x="72.40" y="1581.62" width="81.68" height="10.87" fill="#8b78b8"/>
<rect x="154.08" y="1581.62" width="81.68" height="10.87" fill="#fce3da"/>
<rect x="235.76" y="1581.62" width="81.68" height="10.87" fill="#e9dfef"/>
<rect x="317.44" y="1581.62" width="81.68" height="10.87" fill="#fffdfd"/>
<rect x="399.12" y="1581.62" width="81.68" height="10.87" fill="#ffffff"/>
<rect x="480.80" y="1581.62" width="81.68" height="10.87" fill="#ffffff"/>
<rect x="562.48" y="1581.62" width="81.68" height="10.87" fill="#fef7f4"/>
<rect x="644.16" y="1581.62" width="81.68" height="10.87" fill="#fef7f4"/>
<rect x="725.84" y="1581.62" width="81.68" height="10.87" fill="#ece4f1"/>
<rect x="807.52" y="1581.62" width="81.68" height="10.87" fill="#f1eaf5"/>
<rect x="889.20" y="1581.62" width="81.68" height="10.87" fill="#fdefe9"/>
<rect x="970.88" y="1581.62" width="81.68" height="10.87" fill="#cfbddd"/>
<rect x="1052.56" y="1581.62" width="81.68" height="10.87" fill="#faccba"/>
<rect x="72.40" y="1592.48" width="81.68" height="10.87" fill="#7261aa"/>
<rect x="154.08" y="1592.48" width="81.68" height="10.87" fill="#fce3da"/>
<rect x="235.76" y="1592.48" width="81.68" height="10.87" fill="#f3edf6"/>
<rect x="317.44" y="1592.48" width="81.68" height="10.87" fill="#ffffff"/>
<rect x="399.12" y="1592.48" width="81.68" height="10.87" fill="#f6f1f8"/>
<rect x="480.80" y="1592.48" width="81.68" height="10.87" fill="#f6f1f8"/>
<rect x="562.48" y="1592.48" width="81.68" height="10.87" fill="#ffffff"/>
<rect x="644.16" y="1592.48" width="81.68" height="10.87" fill="#fcfafd"/>
<rect x="725.84" y="1592.48" width="81.68" height="10.87" fill="#f7f4f9"/>
<rect x="807.52" y="1592.48" width="81.68" height="10.87" fill="#fcded3"/>
<rect x="889.20" y="1592.48" width="81.68" height="10.87" fill="#fef7f4"/>
<rect x="970.88" y="1592.48" width="81.68" height="10.87" fill="#f9f6fa"/>
<rect x="1052.56" y="1592.48" width="81.68" height="10.87" fill="#fdefe9"/>
<rect x="72.40" y="1603.35" width="81.68" height="10.87" fill="#4154a4"/>
<rect x="154.08" y="1603.35" width="81.68" height="10.87" fill="#fde8e0"/>
<rect x="235.76" y="1603.35" width="81.68" height="10.87" fill="#f3edf6"/>
<rect x="317.44" y="1603.35" width="81.68" height="10.87" fill="#fef4f0"/>
<rect x="399.12" y="1603.35" width="81.68" height="10.87" fill="#fce5dc"/>
<rect x="480.80" y="1603.35" width="81.68" height="10.87" fill="#fef5f2"/>
<rect x="562.48" y="1603.35" width="81.68" height="10.87" fill="#fdefe9"/>
<rect x="644.16" y="1603.35" width="81.68" height="10.87" fill="#fdefe9"/>
<rect x="725.84" y="1603.35" width="81.68" height="10.87" fill="#f9f6fa"/>
<rect x="807.52" y="1603.35" width="81.68" height="10.87" fill="#efe8f3"/>
<rect x="889.20" y="1603.35" width="81.68" height="10.87" fill="#fce1d7"/>
<rect x="970.88" y="1603.35" width="81.68" height="10.87" fill="#fcded3"/>
<rect x="1052.56" y="1603.35" width="81.68" height="10.87" fill="#fffdfd"/>
<rect x="72.40" y="1614.22" width="81.68" height="10.87" fill="#3d54a4"/>
<rect x="154.08" y="1614.22" width="81.68" height="10.87" fill="#a490c6"/>
<rect x="235.76" y="1614.22" width="81.68" height="10.87" fill="#fef4f0"/>
<rect x="317.44" y="1614.22" width="81.68" height="10.87" fill="#ebe1f0"/>
<rect x="399.12" y="1614.22" width="81.68" height="10.87" fill="#ffffff"/>
<rect x="480.80" y="1614.22" width="81.68" height="10.87" fill="#ffffff"/>
<rect x="562.48" y="1614.22" width="81.68" height="10.87" fill="#fcfafd"/>
<rect x="644.16" y="1614.22" width="81.68" height="10.87" fill="#ffffff"/>
<rect x="725.84" y="1614.22" width="81.68" height="10.87" fill="#fde8e0"/>
<rect x="807.52" y="1614.22" width="81.68" height="10.87" fill="#fef7f4"/>
<rect x="889.20" y="1614.22" width="81.68" height="10.87" fill="#fce1d7"/>
<rect x="970.88" y="1614.22" width="81.68" height="10.87" fill="#f7f4f9"/>
<rect x="1052.56" y="1614.22" width="81.68" height="10.87" fill="#fdede7"/>
<rect x="72.40" y="1625.08" width="81.68" height="10.87" fill="#3953a4"/>
<rect x="154.08" y="1625.08" width="81.68" height="10.87" fill="#ffffff"/>
<rect x="235.76" y="1625.08" width="81.68" height="10.87" fill="#fef4f0"/>
<rect x="317.44" y="1625.08" width="81.68" height="10.87" fill="#c8b5da"/>
<rect x="399.12" y="1625.08" width="81.68" height="10.87" fill="#cdbadc"/>
<rect x="480.80" y="1625.08" width="81.68" height="10.87" fill="#f4eff7"/>
<rect x="562.48" y="1625.08" width="81.68" height="10.87" fill="#ffffff"/>
<rect x="644.16" y="1625.08" width="81.68" height="10.87" fill="#fffaf8"/>
<rect x="725.84" y="1625.08" width="81.68" height="10.87" fill="#f28869"/>
<rect x="807.52" y="1625.08" width="81.68" height="10.87" fill="#f8bba4"/>
<rect x="889.20" y="1625.08" width="81.68" height="10.87" fill="#fce1d7"/>
<rect x="970.88" y="1625.08" width="81.68" height="10.87" fill="#d4c1e0"/>
<rect x="1052.56" y="1625.08" width="81.68" height="10.87" fill="#fcded3"/>
<rect x="72.40" y="1635.95" width="81.68" height="10.87" fill="#3953a4"/>
<rect x="154.08" y="1635.95" width="81.68" height="10.87" fill="#ffffff"/>
<rect x="235.76" y="1635.95" width="81.68" height="10.87" fill="#efe8f3"/>
<rect x="317.44" y="1635.95" width="81.68" height="10.87" fill="#f1eaf5"/>
<rect x="399.12" y="1635.95" width="81.68" height="10.87" fill="#e8ddee"/>
<rect x="480.80" y="1635.95" width="81.68" height="10.87" fill="#fcfafd"/>
<rect x="562.48" y="1635.95" width="81.68" height="10.87" fill="#ffffff"/>
<rect x="644.16" y="1635.95" width="81.68" height="10.87" fill="#fcfafd"/>
<rect x="725.84" y="1635.95" width="81.68" height="10.87" fill="#f9c2ac"/>
<rect x="807.52" y="1635.95" width="81.68" height="10.87" fill="#f1eaf5"/>
<rect x="889.20" y="1635.95" width="81.68" height="10.87" fill="#d8c6e2"/>
<rect x="970.88" y="1635.95" width="81.68" height="10.87" fill="#a490c6"/>
<rect x="1052.56" y="1635.95" width="81.68" height="10.87" fill="#fce0d5"/>
<rect x="72.40" y="1646.81" width="81.68" height="10.87" fill="#7b68af"/>
<rect x="154.08" y="1646.81" width="81.68" height="10.87" fill="#ffffff"/>
<rect x="235.76" y="1646.81" width="81.68" height="10.87" fill="#facebd"/>
<rect x="317.44" y="1646.81" width="81.68" height="10.87" fill="#cdbadc"/>
<rect x="399.12" y="1646.81" width="81.68" height="10.87" fill="#d6c4e1"/>
<rect x="480.80" y="1646.81" width="81.68" height="10.87" fill="#efe8f3"/>
<rect x="562.48" y="1646.81" width="81.68" height="10.87" fill="#f7f4f9"/>
<rect x="644.16" y="1646.81" width="81.68" height="10.87" fill="#f7f4f9"/>
<rect x="725.84" y="1646.81" width="81.68" height="10.87" fill="#d4c1e0"/>
<rect x="807.52" y="1646.81" width="81.68" height="10.87" fill="#f1eaf5"/>
<rect x="889.20" y="1646.81" width="81.68" height="10.87" fill="#b09ccc"/>
<rect x="970.88" y="1646.81" width="81.68" height="10.87" fill="#c2aed6"/>
<rect x="1052.56" y="1646.81" width="81.68" height="10.87" fill="#e8ddee"/>
<rect x="72.40" y="1657.68" width="81.68" height="10.87" fill="#3953a4"/>
<rect x="154.08" y="1657.68" width="81.68" height="10.87" fill="#7665ad"/>
<rect x="235.76" y="1657.68" width="81.68" height="10.87" fill="#f49878"/>
<rect x="317.44" y="1657.68" width="81.68" height="10.87" fill="#f7b79f"/>
<rect x="399.12" y="1657.68" width="81.68" height="10.87" fill="#fffaf8"/>
<rect x="480.80" y="1657.68" width="81.68" height="10.87" fill="#fce1d7"/>
<rect x="562.48" y="1657.68" width="81.68" height="10.87" fill="#fffdfd"/>
<rect x="644.16" y="1657.68" width="81.68" height="10.87" fill="#ffffff"/>
<rect x="725.84" y="1657.68" width="81.68" height="10.87" fill="#f9f6fa"/>
<rect x="807.52" y="1657.68" width="81.68" height="10.87" fill="#dbcbe4"/>
<rect x="889.20" y="1657.68" width="81.68" height="10.87" fill="#c6b3d8"/>
<rect x="970.88" y="1657.68" width="81.68" height="10.87" fill="#f4eff7"/>
<rect x="1052.56" y="1657.68" width="81.68" height="10.87" fill="#ad99cb"/>
<rect x="72.40" y="1668.55" width="81.68" height="10.87" fill="#decfe7"/>
<rect x="154.08" y="1668.55" width="81.68" height="10.87" fill="#decfe7"/>
<rect x="235.76" y="1668.55" width="81.68" height="10.87" fill="#fcded3"/>
<rect x="317.44" y="1668.55" width="81.68" height="10.87" fill="#fbd6c8"/>
<rect x="399.12" y="1668.55" width="81.68" height="10.87" fill="#fef2ed"/>
<rect x="480.80" y="1668.55" width="81.68" height="10.87" fill="#fef2ed"/>
<rect x="562.48" y="1668.55" width="81.68" height="10.87" fill="#fcded3"/>
<rect x="644.16" y="1668.55" width="81.68" height="10.87" fill="#fbd6c8"/>
<rect x="725.84" y="1668.55" width="81.68" height="10.87" fill="#ffffff"/>
<rect x="807.52" y="1668.55" width="81.68" height="10.87" fill="#dbcbe4"/>
<rect x="889.20" y="1668.55" width="81.68" height="10.87" fill="#e4d8eb"/>
<rect x="970.88" y="1668.55" width="81.68" height="10.87" fill="#f4eff7"/>
<rect x="1052.56" y="1668.55" width="81.68" height="10.87" fill="#bba7d2"/>
<rect x="72.40" y="1679.41" width="81.68" height="10.87" fill="#6259a6"/>
<rect x="154.08" y="1679.41" width="81.68" height="10.87" fill="#fde6de"/>
<rect x="235.76" y="1679.41" width="81.68" height="10.87" fill="#efe8f3"/>
<rect x="317.44" y="1679.41" width="81.68" height="10.87" fill="#fef5f2"/>
<rect x="399.12" y="1679.41" width="81.68" height="10.87" fill="#ffffff"/>
<rect x="480.80" y="1679.41" width="81.68" height="10.87" fill="#fcfafd"/>
<rect x="562.48" y="1679.41" width="81.68" height="10.87" fill="#fcded3"/>
<rect x="644.16" y="1679.41" width="81.68" height="10.87" fill="#fcded3"/>
<rect x="725.84" y="1679.41" width="81.68" height="10.87" fill="#fcded3"/>
<rect x="807.52" y="1679.41" width="81.68" height="10.87" fill="#dbcbe4"/>
<rect x="889.20" y="1679.41" width="81.68" height="10.87" fill="#a490c6"/>
<rect x="970.88" y="1679.41" width="81.68" height="10.87" fill="#ffffff"/>
<rect x="1052.56" y="1679.41" width="81.68" height="10.87" fill="#c4b1d7"/>
<rect x="72.40" y="1690.28" width="81.68" height="10.87" fill="#3953a4"/>
<rect x="154.08" y="1690.28" width="81.68" height="10.87" fill="#fdeae2"/>
<rect x="235.76" y="1690.28" width="81.68" height="10.87" fill="#fef7f4"/>
<rect x="317.44" y="1690.28" width="81.68" height="10.87" fill="#fffaf8"/>
<rect x="399.12" y="1690.28" width="81.68" height="10.87" fill="#ffffff"/>
<rect x="480.80" y="1690.28" width="81.68" height="10.87" fill="#fffcfb"/>
<rect x="562.48" y="1690.28" width="81.68" height="10.87" fill="#fcfafd"/>
<rect x="644.16" y="1690.28" width="81.68" height="10.87" fill="#fcfafd"/>
<rect x="725.84" y="1690.28" width="81.68" height="10.87" fill="#dac8e3"/>
<rect x="807.52" y="1690.28" width="81.68" height="10.87" fill="#8b78b8"/>
<rect x="889.20" y="1690.28" width="81.68" height="10.87" fill="#cbb8db"/>
<rect x="970.88" y="1690.28" width="81.68" height="10.87" fill="#d8c6e2"/>
<rect x="1052.56" y="1690.28" width="81.68" height="10.87" fill="#b4a0cf"/>
<rect x="72.40" y="1701.14" width="81.68" height="10.87" fill="#3953a4"/>
<rect x="154.08" y="1701.14" width="81.68" height="10.87" fill="#fffdfd"/>
<rect x="235.76" y="1701.14" width="81.68" height="10.87" fill="#c8b5da"/>
<rect x="317.44" y="1701.14" width="81.68" height="10.87" fill="#faccba"/>
<rect x="399.12" y="1701.14" width="81.68" height="10.87" fill="#f5a383"/>
<rect x="480.80" y="1701.14" width="81.68" height="10.87" fill="#fde6de"/>
<rect x="562.48" y="1701.14" width="81.68" height="10.87" fill="#fef7f4"/>
<rect x="644.16" y="1701.14" width="81.68" height="10.87" fill="#fef7f4"/>
<rect x="725.84" y="1701.14" width="81.68" height="10.87" fill="#f7f4f9"/>
<rect x="807.52" y="1701.14" width="81.68" height="10.87" fill="#a490c6"/>
<rect x="889.20" y="1701.14" width="81.68" height="10.87" fill="#dac8e3"/>
<rect x="970.88" y="1701.14" width="81.68" height="10.87" fill="#fef2ed"/>
<rect x="1052.56" y="1701.14" width="81.68" height="10.87" fill="#8b78b8"/>
<rect x="72.40" y="1712.01" width="81.68" height="10.87" fill="#3953a4"/>
<rect x="154.08" y="1712.01" width="81.68" height="10.87" fill="#a490c6"/>
<rect x="235.76" y="1712.01" width="81.68" height="10.87" fill="#5858a6"/>
<rect x="317.44" y="1712.01" width="81.68" height="10.87" fill="#ffffff"/>
<rect x="399.12" y="1712.01" width="81.68" height="10.87" fill="#fcfafd"/>
<rect x="480.80" y="1712.01" width="81.68" height="10.87" fill="#ffffff"/>
<rect x="562.48" y="1712.01" width="81.68" height="10.87" fill="#ffffff"/>
<rect x="644.16" y="1712.01" width="81.68" height="10.87" fill="#fffdfd"/>
<rect x="725.84" y="1712.01" width="81.68" height="10.87" fill="#5858a6"/>
<rect x="807.52" y="1712.01" width="81.68" height="10.87" fill="#ffffff"/>
<rect x="889.20" y="1712.01" width="81.68" height="10.87" fill="#ffffff"/>
<rect x="970.88" y="1712.01" width="81.68" height="10.87" fill="#ffffff"/>
<rect x="1052.56" y="1712.01" width="81.68" height="10.87" fill="#ffffff"/>
<rect x="72.40" y="1722.88" width="81.68" height="10.87" fill="#ffffff"/>
<rect x="154.08" y="1722.88" width="81.68" height="10.87" fill="#ebe1f0"/>
<rect x="235.76" y="1722.88" width="81.68" height="10.87" fill="#e0d1e8"/>
<rect x="317.44" y="1722.88" width="81.68" height="10.87" fill="#ffffff"/>
<rect x="399.12" y="1722.88" width="81.68" height="10.87" fill="#eee6f2"/>
<rect x="480.80" y="1722.88" width="81.68" height="10.87" fill="#f9f6fa"/>
<rect x="562.48" y="1722.88" width="81.68" height="10.87" fill="#fef5f2"/>
<rect x="644.16" y="1722.88" width="81.68" height="10.87" fill="#fef5f2"/>
<rect x="725.84" y="1722.88" width="81.68" height="10.87" fill="#ab97ca"/>
<rect x="807.52" y="1722.88" width="81.68" height="10.87" fill="#8f7cbb"/>
<rect x="889.20" y="1722.88" width="81.68" height="10.87" fill="#fdebe5"/>
<rect x="970.88" y="1722.88" width="81.68" height="10.87" fill="#f28566"/>
<rect x="1052.56" y="1722.88" width="81.68" height="10.87" fill="#b9a5d1"/>
<rect x="72.40" y="1733.74" width="81.68" height="10.87" fill="#7b68af"/>
<rect x="154.08" y="1733.74" width="81.68" height="10.87" fill="#f5a383"/>
<rect x="235.76" y="1733.74" width="81.68" height="10.87" fill="#fcded3"/>
<rect x="317.44" y="1733.74" width="81.68" height="10.87" fill="#ffffff"/>
<rect x="399.12" y="1733.74" width="81.68" height="10.87" fill="#ffffff"/>
<rect x="480.80" y="1733.74" width="81.68" height="10.87" fill="#fcfafd"/>
<rect x="562.48" y="1733.74" width="81.68" height="10.87" fill="#f9f6fa"/>
<rect x="644.16" y="1733.74" width="81.68" height="10.87" fill="#f9f6fa"/>
<rect x="725.84" y="1733.74" width="81.68" height="10.87" fill="#b09ccc"/>
<rect x="807.52" y="1733.74" width="81.68" height="10.87" fill="#efe8f3"/>
<rect x="889.20" y="1733.74" width="81.68" height="10.87" fill="#fef5f2"/>
<rect x="970.88" y="1733.74" width="81.68" height="10.87" fill="#fffaf8"/>
<rect x="1052.56" y="1733.74" width="81.68" height="10.87" fill="#d8c6e2"/>
<rect x="72.40" y="1744.61" width="81.68" height="10.87" fill="#cdbadc"/>
<rect x="154.08" y="1744.61" width="81.68" height="10.87" fill="#ed2024"/>
<rect x="235.76" y="1744.61" width="81.68" height="10.87" fill="#ffffff"/>
<rect x="317.44" y="1744.61" width="81.68" height="10.87" fill="#f4eff7"/>
<rect x="399.12" y="1744.61" width="81.68" height="10.87" fill="#f7f4f9"/>
<rect x="480.80" y="1744.61" width="81.68" height="10.87" fill="#e9dfef"/>
<rect x="562.48" y="1744.61" width="81.68" height="10.87" fill="#f4eff7"/>
<rect x="644.16" y="1744.61" width="81.68" height="10.87" fill="#f9f6fa"/>
<rect x="725.84" y="1744.61" width="81.68" height="10.87" fill="#fdfdfe"/>
<rect x="807.52" y="1744.61" width="81.68" height="10.87" fill="#fdefe9"/>
<rect x="889.20" y="1744.61" width="81.68" height="10.87" fill="#fce5dc"/>
<rect x="970.88" y="1744.61" width="81.68" height="10.87" fill="#fce5dc"/>
<rect x="1052.56" y="1744.61" width="81.68" height="10.87" fill="#fef4f0"/>
<rect x="72.40" y="1755.47" width="81.68" height="10.87" fill="#ef6a4c"/>
<rect x="154.08" y="1755.47" width="81.68" height="10.87" fill="#ed2024"/>
<rect x="235.76" y="1755.47" width="81.68" height="10.87" fill="#fffaf8"/>
<rect x="317.44" y="1755.47" width="81.68" height="10.87" fill="#b09ccc"/>
<rect x="399.12" y="1755.47" width="81.68" height="10.87" fill="#e8ddee"/>
<rect x="480.80" y="1755.47" width="81.68" height="10.87" fill="#f3edf6"/>
<rect x="562.48" y="1755.47" width="81.68" height="10.87" fill="#f4eff7"/>
<rect x="644.16" y="1755.47" width="81.68" height="10.87" fill="#f4eff7"/>
<rect x="725.84" y="1755.47" width="81.68" height="10.87" fill="#ebe1f0"/>
<rect x="807.52" y="1755.47" width="81.68" height="10.87" fill="#ffffff"/>
<rect x="889.20" y="1755.47" width="81.68" height="10.87" fill="#ffffff"/>
<rect x="970.88" y="1755.47" width="81.68" height="10.87" fill="#ffffff"/>
<rect x="1052.56" y="1755.47" width="81.68" height="10.87" fill="#ffffff"/>
<rect x="72.40" y="1766.34" width="81.68" height="10.87" fill="#ed2024"/>
<rect x="154.08" y="1766.34" width="81.68" height="10.87" fill="#f6ad91"/>
<rect x="235.76" y="1766.34" width="81.68" height="10.87" fill="#fbd4c5"/>
<rect x="317.44" y="1766.34" width="81.68" height="10.87" fill="#fcfafd"/>
<rect x="399.12" y="1766.34" width="81.68" height="10.87" fill="#fcfafd"/>
<rect x="480.80" y="1766.34" width="81.68" height="10.87" fill="#ffffff"/>
<rect x="562.48" y="1766.34" width="81.68" height="10.87" fill="#fce3da"/>
<rect x="644.16" y="1766.34" width="81.68" height="10.87" fill="#fdefe9"/>
<rect x="725.84" y="1766.34" width="81.68" height="10.87" fill="#e4d8eb"/>
<rect x="807.52" y="1766.34" width="81.68" height="10.87" fill="#fce0d5"/>
<rect x="889.20" y="1766.34" width="81.68" height="10.87" fill="#eee6f2"/>
<rect x="970.88" y="1766.34" width="81.68" height="10.87" fill="#dac8e3"/>
<rect x="1052.56" y="1766.34" width="81.68" height="10.87" fill="#fbd4c5"/>
<rect x="72.40" y="1777.21" width="81.68" height="10.87" fill="#ed2024"/>
<rect x="154.08" y="1777.21" width="81.68" height="10.87" fill="#f39374"/>
<rect x="235.76" y="1777.21" width="81.68" height="10.87" fill="#fce1d7"/>
<rect x="317.44" y="1777.21" width="81.68" height="10.87" fill="#f9c8b5"/>
<rect x="399.12" y="1777.21" width="81.68" height="10.87" fill="#fef7f4"/>
<rect x="480.80" y="1777.21" width="81.68" height="10.87" fill="#fef5f2"/>
<rect x="562.48" y="1777.21" width="81.68" height="10.87" fill="#fdefe9"/>
<rect x="644.16" y="1777.21" width="81.68" height="10.87" fill="#fef2ed"/>
<rect x="725.84" y="1777.21" width="81.68" height="10.87" fill="#fbdbcf"/>
<rect x="807.52" y="1777.21" width="81.68" height="10.87" fill="#ffffff"/>
<rect x="889.20" y="1777.21" width="81.68" height="10.87" fill="#ffffff"/>
<rect x="970.88" y="1777.21" width="81.68" height="10.87" fill="#ffffff"/>
<rect x="1052.56" y="1777.21" width="81.68" height="10.87" fill="#ffffff"/>
<rect x="72.40" y="1788.07" width="81.68" height="10.87" fill="#ed2024"/>
<rect x="154.08" y="1788.07" width="81.68" height="10.87" fill="#ee3e34"/>
<rect x="235.76" y="1788.07" width="81.68" height="10.87" fill="#efe8f3"/>
<rect x="317.44" y="1788.07" width="81.68" height="10.87" fill="#ab97ca"/>
<rect x="399.12" y="1788.07" width="81.68" height="10.87" fill="#dac8e3"/>
<rect x="480.80" y="1788.07" width="81.68" height="10.87" fill="#efe8f3"/>
<rect x="562.48" y="1788.07" width="81.68" height="10.87" fill="#fcfafd"/>
<rect x="644.16" y="1788.07" width="81.68" height="10.87" fill="#ffffff"/>
<rect x="725.84" y="1788.07" width="81.68" height="10.87" fill="#f5a383"/>
<rect x="807.52" y="1788.07" width="81.68" height="10.87" fill="#ffffff"/>
<rect x="889.20" y="1788.07" width="81.68" height="10.87" fill="#ffffff"/>
<rect x="970.88" y="1788.07" width="81.68" height="10.87" fill="#ffffff"/>
<rect x="1052.56" y="1788.07" width="81.68" height="10.87" fill="#ffffff"/>
<rect x="72.40" y="1798.94" width="81.68" height="10.87" fill="#ed2024"/>
<rect x="154.08" y="1798.94" width="81.68" height="10.87" fill="#f7b399"/>
<rect x="235.76" y="1798.94" width="81.68" height="10.87" fill="#eee6f2"/>
<rect x="317.44" y="1798.94" width="81.68" height="10.87" fill="#eee6f2"/>
<rect x="399.12" y="1798.94" width="81.68" height="10.87" fill="#f1eaf5"/>
<rect x="480.80" y="1798.94" width="81.68" height="10.87" fill="#f4eff7"/>
<rect x="562.48" y="1798.94" width="81.68" height="10.87" fill="#fef2ed"/>
<rect x="644.16" y="1798.94" width="81.68" height="10.87" fill="#fef2ed"/>
<rect x="725.84" y="1798.94" width="81.68" height="10.87" fill="#f5a383"/>
<rect x="807.52" y="1798.94" width="81.68" height="10.87" fill="#fad0c0"/>
<rect x="889.20" y="1798.94" width="81.68" height="10.87" fill="#f7f4f9"/>
<rect x="970.88" y="1798.94" width="81.68" height="10.87" fill="#fef8f6"/>
<rect x="1052.56" y="1798.94" width="81.68" height="10.87" fill="#e6dbec"/>
<rect x="72.40" y="1809.80" width="81.68" height="10.87" fill="#ed2f2c"/>
<rect x="154.08" y="1809.80" width="81.68" height="10.87" fill="#ffffff"/>
<rect x="235.76" y="1809.80" width="81.68" height="10.87" fill="#ffffff"/>
<rect x="317.44" y="1809.80" width="81.68" height="10.87" fill="#c4b1d7"/>
<rect x="399.12" y="1809.80" width="81.68" height="10.87" fill="#ddcde5"/>
<rect x="480.80" y="1809.80" width="81.68" height="10.87" fill="#e8ddee"/>
<rect x="562.48" y="1809.80" width="81.68" height="10.87" fill="#f9f6fa"/>
<rect x="644.16" y="1809.80" width="81.68" height="10.87" fill="#f9f6fa"/>
<rect x="725.84" y="1809.80" width="81.68" height="10.87" fill="#ffffff"/>
<rect x="807.52" y="1809.80" width="81.68" height="10.87" fill="#fad0c0"/>
<rect x="889.20" y="1809.80" width="81.68" height="10.87" fill="#f8bba4"/>
<rect x="970.88" y="1809.80" width="81.68" height="10.87" fill="#fcfafd"/>
<rect x="1052.56" y="1809.80" width="81.68" height="10.87" fill="#5157a5"/>
<rect x="72.40" y="1820.67" width="81.68" height="10.87" fill="#ed2024"/>
<rect x="154.08" y="1820.67" width="81.68" height="10.87" fill="#ffffff"/>
<rect x="235.76" y="1820.67" width="81.68" height="10.87" fill="#cdbadc"/>
<rect x="317.44" y="1820.67" width="81.68" height="10.87" fill="#fdfdfe"/>
<rect x="399.12" y="1820.67" width="81.68" height="10.87" fill="#fffdfd"/>
<rect x="480.80" y="1820.67" width="81.68" height="10.87" fill="#ffffff"/>
<rect x="562.48" y="1820.67" width="81.68" height="10.87" fill="#f6f1f8"/>
<rect x="644.16" y="1820.67" width="81.68" height="10.87" fill="#f6f1f8"/>
<rect x="725.84" y="1820.67" width="81.68" height="10.87" fill="#fffdfd"/>
<rect x="807.52" y="1820.67" width="81.68" height="10.87" fill="#ffffff"/>
<rect x="889.20" y="1820.67" width="81.68" height="10.87" fill="#f6f1f8"/>
<rect x="970.88" y="1820.67" width="81.68" height="10.87" fill="#a490c6"/>
<rect x="1052.56" y="1820.67" width="81.68" height="10.87" fill="#b29ece"/>
<rect x="72.40" y="1831.54" width="81.68" height="10.87" fill="#ef6a4c"/>
<rect x="154.08" y="1831.54" width="81.68" height="10.87" fill="#8b78b8"/>
<rect x="235.76" y="1831.54" width="81.68" height="10.87" fill="#fde6de"/>
<rect x="317.44" y="1831.54" width="81.68" height="10.87" fill="#fcfafd"/>
<rect x="399.12" y="1831.54" width="81.68" height="10.87" fill="#ffffff"/>
<rect x="480.80" y="1831.54" width="81.68" height="10.87" fill="#fffdfd"/>
<rect x="562.48" y="1831.54" width="81.68" height="10.87" fill="#fcfafd"/>
<rect x="644.16" y="1831.54" width="81.68" height="10.87" fill="#fcfafd"/>
<rect x="725.84" y="1831.54" width="81.68" height="10.87" fill="#fffcfb"/>
<rect x="807.52" y="1831.54" width="81.68" height="10.87" fill="#fad0c0"/>
<rect x="889.20" y="1831.54" width="81.68" height="10.87" fill="#fce0d5"/>
<rect x="970.88" y="1831.54" width="81.68" height="10.87" fill="#d6c4e1"/>
<rect x="1052.56" y="1831.54" width="81.68" height="10.87" fill="#fef7f4"/>
<rect x="72.40" y="1842.40" width="81.68" height="10.87" fill="#ed2024"/>
<rect x="154.08" y="1842.40" width="81.68" height="10.87" fill="#665aa7"/>
<rect x="235.76" y="1842.40" width="81.68" height="10.87" fill="#ffffff"/>
<rect x="317.44" y="1842.40" width="81.68" height="10.87" fill="#f4eff7"/>
<rect x="399.12" y="1842.40" width="81.68" height="10.87" fill="#ffffff"/>
<rect x="480.80" y="1842.40" width="81.68" height="10.87" fill="#ffffff"/>
<rect x="562.48" y="1842.40" width="81.68" height="10.87" fill="#ffffff"/>
<rect x="644.16" y="1842.40" width="81.68" height="10.87" fill="#ffffff"/>
<rect x="725.84" y="1842.40" width="81.68" height="10.87" fill="#ffffff"/>
<rect x="807.52" y="1842.40" width="81.68" height="10.87" fill="#ffffff"/>
<rect x="889.20" y="1842.40" width="81.68" height="10.87" fill="#ffffff"/>
<rect x="970.88" y="1842.40" width="81.68" height="10.87" fill="#ffffff"/>
<rect x="1052.56" y="1842.40" width="81.68" height="10.87" fill="#ffffff"/>
<rect x="72.40" y="1853.27" width="81.68" height="10.87" fill="#ee4c3c"/>
<rect x="154.08" y="1853.27" width="81.68" height="10.87" fill="#ffffff"/>
<rect x="235.76" y="1853.27" width="81.68" height="10.87" fill="#ffffff"/>
<rect x="317.44" y="1853.27" width="81.68" height="10.87" fill="#fef0eb"/>
<rect x="399.12" y="1853.27" width="81.68" height="10.87" fill="#fffaf8"/>
<rect x="480.80" y="1853.27" width="81.68" height="10.87" fill="#fffaf8"/>
<rect x="562.48" y="1853.27" width="81.68" height="10.87" fill="#fcfafd"/>
<rect x="644.16" y="1853.27" width="81.68" height="10.87" fill="#f9f6fa"/>
<rect x="725.84" y="1853.27" width="81.68" height="10.87" fill="#fcded3"/>
<rect x="807.52" y="1853.27" width="81.68" height="10.87" fill="#8370b4"/>
<rect x="889.20" y="1853.27" width="81.68" height="10.87" fill="#fad0c0"/>
<rect x="970.88" y="1853.27" width="81.68" height="10.87" fill="#f7f4f9"/>
<rect x="1052.56" y="1853.27" width="81.68" height="10.87" fill="#fce1d7"/>
<rect x="72.40" y="1864.13" width="81.68" height="10.87" fill="#f28869"/>
<rect x="154.08" y="1864.13" width="81.68" height="10.87" fill="#ffffff"/>
<rect x="235.76" y="1864.13" width="81.68" height="10.87" fill="#f1eaf5"/>
<rect x="317.44" y="1864.13" width="81.68" height="10.87" fill="#ffffff"/>
<rect x="399.12" y="1864.13" width="81.68" height="10.87" fill="#ffffff"/>
<rect x="480.80" y="1864.13" width="81.68" height="10.87" fill="#e8ddee"/>
<rect x="562.48" y="1864.13" width="81.68" height="10.87" fill="#fef7f4"/>
<rect x="644.16" y="1864.13" width="81.68" height="10.87" fill="#fcfafd"/>
<rect x="725.84" y="1864.13" width="81.68" height="10.87" fill="#ffffff"/>
<rect x="807.52" y="1864.13" width="81.68" height="10.87" fill="#e9dfef"/>
<rect x="889.20" y="1864.13" width="81.68" height="10.87" fill="#fce5dc"/>
<rect x="970.88" y="1864.13" width="81.68" height="10.87" fill="#fdefe9"/>
<rect x="1052.56" y="1864.13" width="81.68" height="10.87" fill="#ffffff"/>
<rect x="72.40" y="1875.00" width="81.68" height="10.87" fill="#ef5b44"/>
<rect x="154.08" y="1875.00" width="81.68" height="10.87" fill="#faccba"/>
<rect x="235.76" y="1875.00" width="81.68" height="10.87" fill="#e9dfef"/>
<rect x="317.44" y="1875.00" width="81.68" height="10.87" fill="#f4eff7"/>
<rect x="399.12" y="1875.00" width="81.68" height="10.87" fill="#ffffff"/>
<rect x="480.80" y="1875.00" width="81.68" height="10.87" fill="#f4eff7"/>
<rect x="562.48" y="1875.00" width="81.68" height="10.87" fill="#fdede7"/>
<rect x="644.16" y="1875.00" width="81.68" height="10.87" fill="#fdefe9"/>
<rect x="725.84" y="1875.00" width="81.68" height="10.87" fill="#eee6f2"/>
<rect x="807.52" y="1875.00" width="81.68" height="10.87" fill="#fcfafd"/>
<rect x="889.20" y="1875.00" width="81.68" height="10.87" fill="#fdefe9"/>
<rect x="970.88" y="1875.00" width="81.68" height="10.87" fill="#fce1d7"/>
<rect x="1052.56" y="1875.00" width="81.68" height="10.87" fill="#fef7f4"/>
<rect x="72.40" y="1885.87" width="81.68" height="10.87" fill="#ed2024"/>
<rect x="154.08" y="1885.87" width="81.68" height="10.87" fill="#ffffff"/>
<rect x="235.76" y="1885.87" width="81.68" height="10.87" fill="#8572b5"/>
<rect x="317.44" y="1885.87" width="81.68" height="10.87" fill="#f3edf6"/>
<rect x="399.12" y="1885.87" width="81.68" height="10.87" fill="#fcfafd"/>
<rect x="480.80" y="1885.87" width="81.68" height="10.87" fill="#fcfafd"/>
<rect x="562.48" y="1885.87" width="81.68" height="10.87" fill="#efe8f3"/>
<rect x="644.16" y="1885.87" width="81.68" height="10.87" fill="#eee6f2"/>
<rect x="725.84" y="1885.87" width="81.68" height="10.87" fill="#f38c6d"/>
<rect x="807.52" y="1885.87" width="81.68" height="10.87" fill="#ffffff"/>
<rect x="889.20" y="1885.87" width="81.68" height="10.87" fill="#ffffff"/>
<rect x="970.88" y="1885.87" width="81.68" height="10.87" fill="#ffffff"/>
<rect x="1052.56" y="1885.87" width="81.68" height="10.87" fill="#ffffff"/>
<rect x="72.40" y="1896.73" width="81.68" height="10.87" fill="#ed2024"/>
<rect x="154.08" y="1896.73" width="81.68" height="10.87" fill="#ffffff"/>
<rect x="235.76" y="1896.73" width="81.68" height="10.87" fill="#917ebc"/>
<rect x="317.44" y="1896.73" width="81.68" height="10.87" fill="#fdfdfe"/>
<rect x="399.12" y="1896.73" width="81.68" height="10.87" fill="#f4eff7"/>
<rect x="480.80" y="1896.73" width="81.68" height="10.87" fill="#f3edf6"/>
<rect x="562.48" y="1896.73" width="81.68" height="10.87" fill="#fef2ed"/>
<rect x="644.16" y="1896.73" width="81.68" height="10.87" fill="#fef2ed"/>
<rect x="725.84" y="1896.73" width="81.68" height="10.87" fill="#ef6147"/>
<rect x="807.52" y="1896.73" width="81.68" height="10.87" fill="#f7b399"/>
<rect x="889.20" y="1896.73" width="81.68" height="10.87" fill="#efe8f3"/>
<rect x="970.88" y="1896.73" width="81.68" height="10.87" fill="#f59e7f"/>
<rect x="1052.56" y="1896.73" width="81.68" height="10.87" fill="#f59e7f"/>
</g>
<path d="M71.90,1331.70V1908.10H1134.24" fill="none" stroke="#2a2a2a" stroke-width="1.3"/>
<path d="M67.90,1337.13H71.90M67.90,1348.00H71.90M67.90,1358.87H71.90M67.90,1369.73H71.90M67.90,1380.60H71.90M67.90,1391.46H71.90M67.90,1402.33H71.90M67.90,1413.20H71.90M67.90,1424.06H71.90M67.90,1434.93H71.90M67.90,1445.79H71.90M67.90,1456.66H71.90M67.90,1467.53H71.90M67.90,1478.39H71.90M67.90,1489.26H71.90M67.90,1500.12H71.90M67.90,1510.99H71.90M67.90,1521.86H71.90M67.90,1532.72H71.90M67.90,1543.59H71.90M67.90,1554.45H71.90M67.90,1565.32H71.90M67.90,1576.18H71.90M67.90,1587.05H71.90M67.90,1597.92H71.90M67.90,1608.78H71.90M67.90,1619.65H71.90M67.90,1630.52H71.90M67.90,1641.38H71.90M67.90,1652.25H71.90M67.90,1663.11H71.90M67.90,1673.98H71.90M67.90,1684.85H71.90M67.90,1695.71H71.90M67.90,1706.58H71.90M67.90,1717.44H71.90M67.90,1728.31H71.90M67.90,1739.17H71.90M67.90,1750.04H71.90M67.90,1760.91H71.90M67.90,1771.77H71.90M67.90,1782.64H71.90M67.90,1793.51H71.90M67.90,1804.37H71.90M67.90,1815.24H71.90M67.90,1826.10H71.90M67.90,1836.97H71.90M67.90,1847.84H71.90M67.90,1858.70H71.90M67.90,1869.57H71.90M67.90,1880.43H71.90M67.90,1891.30H71.90M67.90,1902.16H71.90M113.24,1908.10V1912.40M194.92,1908.10V1912.40M276.60,1908.10V1912.40M358.28,1908.10V1912.40M439.96,1908.10V1912.40M521.64,1908.10V1912.40M603.32,1908.10V1912.40M685.00,1908.10V1912.40M766.68,1908.10V1912.40M848.36,1908.10V1912.40M930.04,1908.10V1912.40M1011.72,1908.10V1912.40M1093.40,1908.10V1912.40" stroke="#333" stroke-width="1.1"/>
<g font-size="10.7" fill="#383838" text-anchor="end">
<text transform="translate(65.5,1341.33) scale(1.045,1)">GADD45B</text>
<text transform="translate(65.5,1352.20) scale(1.045,1)">FOS</text>
<text transform="translate(65.5,1363.07) scale(1.045,1)">JUNB</text>
<text transform="translate(65.5,1373.93) scale(1.045,1)">DUSP1</text>
<text transform="translate(65.5,1384.80) scale(1.045,1)">SLC30A3</text>
<text transform="translate(65.5,1395.66) scale(1.045,1)">CENPA</text>
<text transform="translate(65.5,1406.53) scale(1.045,1)">CACNG5</text>
<text transform="translate(65.5,1417.40) scale(1.045,1)">PER1</text>
<text transform="translate(65.5,1428.26) scale(1.045,1)">ZDHHC21</text>
<text transform="translate(65.5,1439.13) scale(1.045,1)">PLK2</text>
<text transform="translate(65.5,1449.99) scale(1.045,1)">COQ10B</text>
<text transform="translate(65.5,1460.86) scale(1.045,1)">RASL11A</text>
<text transform="translate(65.5,1471.73) scale(1.045,1)">RASL10A</text>
<text transform="translate(65.5,1482.59) scale(1.045,1)">DPP10</text>
<text transform="translate(65.5,1493.46) scale(1.045,1)">INHBA</text>
<text transform="translate(65.5,1504.32) scale(1.045,1)">PCDH8</text>
<text transform="translate(65.5,1515.19) scale(1.045,1)">BDNF</text>
<text transform="translate(65.5,1526.06) scale(1.045,1)">OSBPL6</text>
<text transform="translate(65.5,1536.92) scale(1.045,1)">FBXO33</text>
<text transform="translate(65.5,1547.79) scale(1.045,1)">SSTR2</text>
<text transform="translate(65.5,1558.65) scale(1.045,1)">RPL7A</text>
<text transform="translate(65.5,1569.52) scale(1.045,1)">EMD</text>
<text transform="translate(65.5,1580.38) scale(1.045,1)">PHF21B</text>
<text transform="translate(65.5,1591.25) scale(1.045,1)">COL6A1</text>
<text transform="translate(65.5,1602.12) scale(1.045,1)">TAX1BP1</text>
<text transform="translate(65.5,1612.98) scale(1.045,1)">WFS1</text>
<text transform="translate(65.5,1623.85) scale(1.045,1)">FRMD6</text>
<text transform="translate(65.5,1634.72) scale(1.045,1)">NR4A2</text>
<text transform="translate(65.5,1645.58) scale(1.045,1)">SLC17A6</text>
<text transform="translate(65.5,1656.45) scale(1.045,1)">NPTX2</text>
<text transform="translate(65.5,1667.31) scale(1.045,1)">CDKN1A</text>
<text transform="translate(65.5,1678.18) scale(1.045,1)">CEBPB</text>
<text transform="translate(65.5,1689.05) scale(1.045,1)">SERTAD1</text>
<text transform="translate(65.5,1699.91) scale(1.045,1)">TANC1</text>
<text transform="translate(65.5,1710.78) scale(1.045,1)">BAG3</text>
<text transform="translate(65.5,1721.64) scale(1.045,1)">DLK1</text>
<text transform="translate(65.5,1732.51) scale(1.045,1)">GCH1</text>
<text transform="translate(65.5,1743.38) scale(1.045,1)">ERRFI1</text>
<text transform="translate(65.5,1754.24) scale(1.045,1)">PSMB5</text>
<text transform="translate(65.5,1765.11) scale(1.045,1)">DUSP4</text>
<text transform="translate(65.5,1775.97) scale(1.045,1)">MEF2C</text>
<text transform="translate(65.5,1786.84) scale(1.045,1)">GADD45G</text>
<text transform="translate(65.5,1797.71) scale(1.045,1)">ARC</text>
<text transform="translate(65.5,1808.57) scale(1.045,1)">EGR3</text>
<text transform="translate(65.5,1819.44) scale(1.045,1)">EGR4</text>
<text transform="translate(65.5,1830.30) scale(1.045,1)">FOSL2</text>
<text transform="translate(65.5,1841.17) scale(1.045,1)">CAMKK1</text>
<text transform="translate(65.5,1852.04) scale(1.045,1)">C1QL2</text>
<text transform="translate(65.5,1862.90) scale(1.045,1)">PROX1</text>
<text transform="translate(65.5,1873.77) scale(1.045,1)">DPYSL5</text>
<text transform="translate(65.5,1884.63) scale(1.045,1)">SLC25A25</text>
<text transform="translate(65.5,1895.50) scale(1.045,1)">FOSB</text>
<text transform="translate(65.5,1906.37) scale(1.045,1)">CALB2</text>
</g>
<g font-size="12.7" fill="#404040" text-anchor="end">
<text transform="translate(117.14,1927.6) rotate(-45) scale(1.126,1)">DISC1_RNA</text>
<text transform="translate(198.82,1927.6) rotate(-45) scale(1.126,1)">BloodmRNA</text>
<text transform="translate(280.50,1927.6) rotate(-45) scale(1.126,1)">hiPSC_Neuron</text>
<text transform="translate(362.18,1927.6) rotate(-45) scale(1.126,1)">gandalRNAseq</text>
<text transform="translate(443.86,1927.6) rotate(-45) scale(1.126,1)">gandalMicro</text>
<text transform="translate(525.54,1927.6) rotate(-45) scale(1.126,1)">Stanley</text>
<text transform="translate(607.22,1927.6) rotate(-45) scale(1.126,1)">Deep_Neurons</text>
<text transform="translate(688.90,1927.6) rotate(-45) scale(1.126,1)">Superficial_Neurons</text>
<text transform="translate(770.58,1927.6) rotate(-45) scale(1.126,1)">hiPSC_NPC1</text>
<text transform="translate(852.26,1927.6) rotate(-45) scale(1.126,1)">MtSinaiACC</text>
<text transform="translate(933.94,1927.6) rotate(-45) scale(1.126,1)">MtSinaiMTA</text>
<text transform="translate(1015.62,1927.6) rotate(-45) scale(1.126,1)">MtSinaiDLPFC</text>
<text transform="translate(1097.30,1927.6) rotate(-45) scale(1.126,1)">MtSinaiTPA</text>
</g>
<path d="M1134.24,1337.13H1288.60V1348.00H1134.24M1134.24,1358.87H1201.30V1369.73H1134.24M1134.24,1391.46H1151.00V1402.33H1134.24M1151.00,1396.90H1167.50V1413.20H1134.24M1134.24,1380.60H1184.40V1405.05H1167.50M1134.24,1424.06H1177.30V1434.93H1134.24M1184.40,1392.82H1197.90V1429.49H1177.30M1197.90,1411.16H1206.90V1445.79H1134.24M1201.30,1364.30H1221.60V1428.48H1206.90M1134.24,1456.66H1196.10V1467.53H1134.24M1221.60,1396.39H1245.40V1462.09H1196.10M1134.24,1478.39H1185.90V1489.26H1134.24M1134.24,1500.12H1194.20V1510.99H1134.24M1185.90,1483.82H1210.30V1505.56H1194.20M1134.24,1521.86H1198.50V1532.72H1134.24M1210.30,1494.69H1246.00V1527.29H1198.50M1245.40,1429.24H1263.00V1510.99H1246.00M1134.24,1565.32H1160.40V1576.18H1134.24M1134.24,1554.45H1183.10V1570.75H1160.40M1134.24,1543.59H1196.60V1562.60H1183.10M1134.24,1587.05H1176.90V1597.92H1134.24M1176.90,1592.48H1199.40V1608.78H1134.24M1196.60,1553.09H1209.80V1600.63H1199.40M1134.24,1630.52H1207.30V1641.38H1134.24M1134.24,1619.65H1216.30V1635.95H1207.30M1209.80,1576.86H1242.60V1627.80H1216.30M1242.60,1602.33H1251.00V1652.25H1134.24M1263.00,1470.11H1287.30V1627.29H1251.00M1134.24,1663.11H1227.60V1673.98H1134.24M1134.24,1684.85H1203.20V1695.71H1134.24M1203.20,1690.28H1208.40V1706.58H1134.24M1227.60,1668.55H1246.70V1698.43H1208.40M1246.70,1683.49H1292.90V1717.44H1134.24M1287.30,1548.70H1320.50V1700.46H1292.90M1134.24,1739.17H1216.00V1750.04H1134.24M1134.24,1728.31H1278.20V1744.61H1216.00M1320.50,1624.58H1328.50V1736.46H1278.20M1288.60,1342.57H1358.90V1680.52H1328.50M1134.24,1771.77H1191.90V1782.64H1134.24M1134.24,1760.91H1226.60V1777.21H1191.90M1134.24,1793.51H1198.50V1804.37H1134.24M1226.60,1769.06H1235.10V1798.94H1198.50M1134.24,1815.24H1221.40V1826.10H1134.24M1235.10,1784.00H1264.20V1820.67H1221.40M1134.24,1836.97H1184.40V1847.84H1134.24M1134.24,1869.57H1175.40V1880.43H1134.24M1134.24,1858.70H1210.70V1875.00H1175.40M1184.40,1842.40H1237.90V1866.85H1210.70M1134.24,1891.30H1215.40V1902.16H1134.24M1237.90,1854.63H1275.40V1896.73H1215.40M1264.20,1802.33H1304.50V1875.68H1275.40M1358.90,1511.54H1399.50V1839.01H1304.50" fill="none" stroke="#000" stroke-width="2.2"/>
<path d="M358.28,1331.70V1313.00H439.96V1331.70M603.32,1331.70V1329.60H685.00V1331.70M521.64,1331.70V1314.60H644.16V1329.60M399.12,1313.00V1298.80H582.90V1314.60M276.60,1331.70V1274.20H491.01V1298.80M848.36,1331.70V1278.10H930.04V1331.70M766.68,1331.70V1265.20H889.20V1278.10M383.81,1274.20V1259.20H827.94V1265.20M1011.72,1331.70V1272.10H1093.40V1331.70M605.87,1259.20V1248.10H1052.56V1272.10M194.92,1331.70V1239.70H829.22V1248.10M113.24,1331.70V1188.80H512.07V1239.70" fill="none" stroke="#000" stroke-width="2.2"/>
<rect x="1437.5" y="1378.3" width="24.1" height="337.5" fill="url(#gB)" stroke="#555" stroke-width="0.9"/>
<path d="M1461.6,1378.30H1465M1461.6,1462.67H1465M1461.6,1547.05H1465M1461.6,1631.42H1465M1461.6,1715.80H1465" stroke="#444" stroke-width="1"/>
<g font-size="12" fill="#222">
<text transform="translate(1466.6,1382.70) scale(1.11,1)">1.0</text>
<text transform="translate(1466.6,1467.08) scale(1.11,1)">0.5</text>
<text transform="translate(1466.6,1551.45) scale(1.11,1)">0.0</text>
<text transform="translate(1466.6,1635.83) scale(1.11,1)">-0.5</text>
<text transform="translate(1466.6,1720.20) scale(1.11,1)">-1.0</text>
</g>
<text x="0" y="0" font-size="51.5" font-weight="bold" fill="#231f20" transform="translate(0,1181.9) scale(0.80,1)">B.</text>
</svg>
</body></html>
